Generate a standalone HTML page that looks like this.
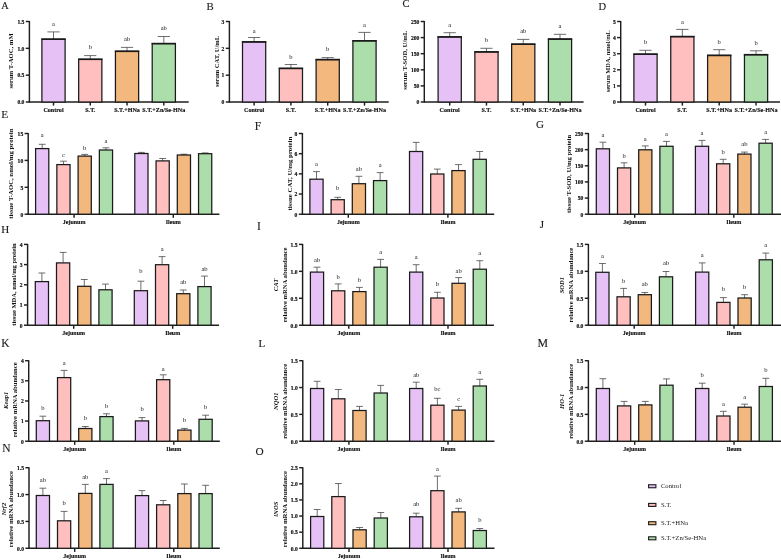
<!DOCTYPE html>
<html><head><meta charset="utf-8"><title>Figure</title>
<style>
html,body{margin:0;padding:0;background:#fff;}
body{width:781px;height:560px;overflow:hidden;}
svg{display:block;font-family:"Liberation Serif", serif;will-change:transform;}
</style></head>
<body>
<svg width="781" height="560" viewBox="0 0 781 560">
<rect width="781" height="560" fill="#fff"/>
<text x="1.3" y="8.8" font-size="10.3" font-weight="normal" font-style="normal" text-anchor="start" fill="#1a1a1a" stroke="#1a1a1a" stroke-width="0.12">A</text>
<text x="206.5" y="9.6" font-size="10.8" font-weight="normal" font-style="normal" text-anchor="start" fill="#1a1a1a" stroke="#1a1a1a" stroke-width="0.12">B</text>
<text x="402.4" y="7.4" font-size="10.5" font-weight="normal" font-style="normal" text-anchor="start" fill="#1a1a1a" stroke="#1a1a1a" stroke-width="0.12">C</text>
<text x="598.5" y="9.6" font-size="10.5" font-weight="normal" font-style="normal" text-anchor="start" fill="#1a1a1a" stroke="#1a1a1a" stroke-width="0.12">D</text>
<text x="1.3" y="117.9" font-size="11.3" font-weight="normal" font-style="normal" text-anchor="start" fill="#1a1a1a" stroke="#1a1a1a" stroke-width="0.12">E</text>
<text x="254.8" y="129.6" font-size="11.5" font-weight="normal" font-style="normal" text-anchor="start" fill="#1a1a1a" stroke="#1a1a1a" stroke-width="0.12">F</text>
<text x="535.9" y="128.2" font-size="11.0" font-weight="normal" font-style="normal" text-anchor="start" fill="#1a1a1a" stroke="#1a1a1a" stroke-width="0.12">G</text>
<text x="1.2" y="233.3" font-size="11.0" font-weight="normal" font-style="normal" text-anchor="start" fill="#1a1a1a" stroke="#1a1a1a" stroke-width="0.12">H</text>
<text x="257.1" y="229.8" font-size="11.5" font-weight="normal" font-style="normal" text-anchor="start" fill="#1a1a1a" stroke="#1a1a1a" stroke-width="0.12">I</text>
<text x="539.7" y="228.2" font-size="11.0" font-weight="normal" font-style="normal" text-anchor="start" fill="#1a1a1a" stroke="#1a1a1a" stroke-width="0.12">J</text>
<text x="1.2" y="346.7" font-size="11.5" font-weight="normal" font-style="normal" text-anchor="start" fill="#1a1a1a" stroke="#1a1a1a" stroke-width="0.12">K</text>
<text x="258.4" y="346.8" font-size="11.0" font-weight="normal" font-style="normal" text-anchor="start" fill="#1a1a1a" stroke="#1a1a1a" stroke-width="0.12">L</text>
<text x="537.5" y="346.9" font-size="11.9" font-weight="normal" font-style="normal" text-anchor="start" fill="#1a1a1a" stroke="#1a1a1a" stroke-width="0.12">M</text>
<text x="2.3" y="452.4" font-size="11.5" font-weight="normal" font-style="normal" text-anchor="start" fill="#1a1a1a" stroke="#1a1a1a" stroke-width="0.12">N</text>
<text x="255.6" y="454.7" font-size="11.3" font-weight="normal" font-style="normal" text-anchor="start" fill="#1a1a1a" stroke="#1a1a1a" stroke-width="0.12">O</text>
<line x1="29.4" y1="21" x2="29.4" y2="102.5" stroke="#1e1e1e" stroke-width="1.45"/>
<line x1="28.9" y1="102" x2="188.7" y2="102" stroke="#1e1e1e" stroke-width="1.45"/>
<line x1="25.8" y1="102" x2="29.4" y2="102" stroke="#1e1e1e" stroke-width="1.45"/>
<text x="24.4" y="104.3" font-size="5.6" font-weight="bold" font-style="normal" text-anchor="end" fill="#111" stroke="#111" stroke-width="0.18">0.0</text>
<line x1="25.8" y1="75.17" x2="29.4" y2="75.17" stroke="#1e1e1e" stroke-width="1.45"/>
<text x="24.4" y="77.47" font-size="5.6" font-weight="bold" font-style="normal" text-anchor="end" fill="#111" stroke="#111" stroke-width="0.18">0.5</text>
<line x1="25.8" y1="48.33" x2="29.4" y2="48.33" stroke="#1e1e1e" stroke-width="1.45"/>
<text x="24.4" y="50.63" font-size="5.6" font-weight="bold" font-style="normal" text-anchor="end" fill="#111" stroke="#111" stroke-width="0.18">1.0</text>
<line x1="25.8" y1="21.5" x2="29.4" y2="21.5" stroke="#1e1e1e" stroke-width="1.45"/>
<text x="24.4" y="23.8" font-size="5.6" font-weight="bold" font-style="normal" text-anchor="end" fill="#111" stroke="#111" stroke-width="0.18">1.5</text>
<line x1="53.5" y1="102" x2="53.5" y2="105.6" stroke="#1e1e1e" stroke-width="1.45"/>
<line x1="90.27" y1="102" x2="90.27" y2="105.6" stroke="#1e1e1e" stroke-width="1.45"/>
<line x1="127.04" y1="102" x2="127.04" y2="105.6" stroke="#1e1e1e" stroke-width="1.45"/>
<line x1="163.81" y1="102" x2="163.81" y2="105.6" stroke="#1e1e1e" stroke-width="1.45"/>
<line x1="53.5" y1="31.9" x2="53.5" y2="39.2" stroke="#4a4a4a" stroke-width="0.8"/>
<line x1="47.4" y1="31.9" x2="59.6" y2="31.9" stroke="#4a4a4a" stroke-width="0.8"/>
<rect x="41.9" y="39.2" width="23.2" height="62.8" fill="#e6c1f5" stroke="#1a1a1a" stroke-width="1.25"/>
<line x1="41.3" y1="39.2" x2="65.7" y2="39.2" stroke="#1a1a1a" stroke-width="1.6"/>
<text x="53.5" y="25.9" font-size="6.5" font-weight="normal" font-style="normal" text-anchor="middle" fill="#1a1a1a" >a</text>
<line x1="90.27" y1="55.6" x2="90.27" y2="59.3" stroke="#4a4a4a" stroke-width="0.8"/>
<line x1="84.17" y1="55.6" x2="96.37" y2="55.6" stroke="#4a4a4a" stroke-width="0.8"/>
<rect x="78.67" y="59.3" width="23.2" height="42.7" fill="#ffbfbf" stroke="#1a1a1a" stroke-width="1.25"/>
<line x1="78.07" y1="59.3" x2="102.47" y2="59.3" stroke="#1a1a1a" stroke-width="1.6"/>
<text x="90.27" y="49" font-size="6.5" font-weight="normal" font-style="normal" text-anchor="middle" fill="#1a1a1a" >b</text>
<line x1="127.04" y1="47.4" x2="127.04" y2="51.3" stroke="#4a4a4a" stroke-width="0.8"/>
<line x1="120.94" y1="47.4" x2="133.14" y2="47.4" stroke="#4a4a4a" stroke-width="0.8"/>
<rect x="115.44" y="51.3" width="23.2" height="50.7" fill="#f2b87d" stroke="#1a1a1a" stroke-width="1.25"/>
<line x1="114.84" y1="51.3" x2="139.24" y2="51.3" stroke="#1a1a1a" stroke-width="1.6"/>
<text x="127.04" y="40.6" font-size="6.5" font-weight="normal" font-style="normal" text-anchor="middle" fill="#1a1a1a" >ab</text>
<line x1="163.81" y1="36.5" x2="163.81" y2="43.6" stroke="#4a4a4a" stroke-width="0.8"/>
<line x1="157.71" y1="36.5" x2="169.91" y2="36.5" stroke="#4a4a4a" stroke-width="0.8"/>
<rect x="152.21" y="43.6" width="23.2" height="58.4" fill="#acdeac" stroke="#1a1a1a" stroke-width="1.25"/>
<line x1="151.61" y1="43.6" x2="176.01" y2="43.6" stroke="#1a1a1a" stroke-width="1.6"/>
<text x="163.81" y="29.8" font-size="6.5" font-weight="normal" font-style="normal" text-anchor="middle" fill="#1a1a1a" >ab</text>
<text x="53.5" y="112" font-size="6.1" font-weight="bold" font-style="normal" text-anchor="middle" fill="#111" stroke="#111" stroke-width="0.15">Control</text>
<text x="90.27" y="112" font-size="6.1" font-weight="bold" font-style="normal" text-anchor="middle" fill="#111" stroke="#111" stroke-width="0.15">S.T.</text>
<text x="127.04" y="112" font-size="6.1" font-weight="bold" font-style="normal" text-anchor="middle" fill="#111" stroke="#111" stroke-width="0.15">S.T.+HNa</text>
<text x="163.81" y="112" font-size="6.1" font-weight="bold" font-style="normal" text-anchor="middle" fill="#111" stroke="#111" stroke-width="0.15">S.T.+Zn/Se-HNa</text>
<text class="yl" transform="translate(11,60.95) rotate(-90)" x="0" y="0" dy="0.35em" font-size="6.6" font-weight="bold" font-style="normal" text-anchor="middle" textLength="55.3" lengthAdjust="spacingAndGlyphs" fill="#111">serum T-AOC, mM</text>
<line x1="229.4" y1="21" x2="229.4" y2="102.5" stroke="#1e1e1e" stroke-width="1.45"/>
<line x1="228.9" y1="102" x2="388.7" y2="102" stroke="#1e1e1e" stroke-width="1.45"/>
<line x1="225.8" y1="102" x2="229.4" y2="102" stroke="#1e1e1e" stroke-width="1.45"/>
<text x="224.4" y="104.3" font-size="5.6" font-weight="bold" font-style="normal" text-anchor="end" fill="#111" stroke="#111" stroke-width="0.18">0</text>
<line x1="225.8" y1="75.17" x2="229.4" y2="75.17" stroke="#1e1e1e" stroke-width="1.45"/>
<text x="224.4" y="77.47" font-size="5.6" font-weight="bold" font-style="normal" text-anchor="end" fill="#111" stroke="#111" stroke-width="0.18">1</text>
<line x1="225.8" y1="48.33" x2="229.4" y2="48.33" stroke="#1e1e1e" stroke-width="1.45"/>
<text x="224.4" y="50.63" font-size="5.6" font-weight="bold" font-style="normal" text-anchor="end" fill="#111" stroke="#111" stroke-width="0.18">2</text>
<line x1="225.8" y1="21.5" x2="229.4" y2="21.5" stroke="#1e1e1e" stroke-width="1.45"/>
<text x="224.4" y="23.8" font-size="5.6" font-weight="bold" font-style="normal" text-anchor="end" fill="#111" stroke="#111" stroke-width="0.18">3</text>
<line x1="254.1" y1="102" x2="254.1" y2="105.6" stroke="#1e1e1e" stroke-width="1.45"/>
<line x1="290.9" y1="102" x2="290.9" y2="105.6" stroke="#1e1e1e" stroke-width="1.45"/>
<line x1="327.7" y1="102" x2="327.7" y2="105.6" stroke="#1e1e1e" stroke-width="1.45"/>
<line x1="364.5" y1="102" x2="364.5" y2="105.6" stroke="#1e1e1e" stroke-width="1.45"/>
<line x1="254.1" y1="37.5" x2="254.1" y2="41.9" stroke="#4a4a4a" stroke-width="0.8"/>
<line x1="248" y1="37.5" x2="260.2" y2="37.5" stroke="#4a4a4a" stroke-width="0.8"/>
<rect x="242.5" y="41.9" width="23.2" height="60.1" fill="#e6c1f5" stroke="#1a1a1a" stroke-width="1.25"/>
<line x1="241.9" y1="41.9" x2="266.3" y2="41.9" stroke="#1a1a1a" stroke-width="1.6"/>
<text x="254.1" y="32.7" font-size="6.5" font-weight="normal" font-style="normal" text-anchor="middle" fill="#1a1a1a" >a</text>
<line x1="290.9" y1="64.5" x2="290.9" y2="68.4" stroke="#4a4a4a" stroke-width="0.8"/>
<line x1="284.8" y1="64.5" x2="297" y2="64.5" stroke="#4a4a4a" stroke-width="0.8"/>
<rect x="279.3" y="68.4" width="23.2" height="33.6" fill="#ffbfbf" stroke="#1a1a1a" stroke-width="1.25"/>
<line x1="278.7" y1="68.4" x2="303.1" y2="68.4" stroke="#1a1a1a" stroke-width="1.6"/>
<text x="290.9" y="58.9" font-size="6.5" font-weight="normal" font-style="normal" text-anchor="middle" fill="#1a1a1a" >b</text>
<line x1="327.7" y1="57.6" x2="327.7" y2="59.6" stroke="#4a4a4a" stroke-width="0.8"/>
<line x1="321.6" y1="57.6" x2="333.8" y2="57.6" stroke="#4a4a4a" stroke-width="0.8"/>
<rect x="316.1" y="59.6" width="23.2" height="42.4" fill="#f2b87d" stroke="#1a1a1a" stroke-width="1.25"/>
<line x1="315.5" y1="59.6" x2="339.9" y2="59.6" stroke="#1a1a1a" stroke-width="1.6"/>
<text x="327.7" y="51.3" font-size="6.5" font-weight="normal" font-style="normal" text-anchor="middle" fill="#1a1a1a" >b</text>
<line x1="364.5" y1="32.4" x2="364.5" y2="40.8" stroke="#4a4a4a" stroke-width="0.8"/>
<line x1="358.4" y1="32.4" x2="370.6" y2="32.4" stroke="#4a4a4a" stroke-width="0.8"/>
<rect x="352.9" y="40.8" width="23.2" height="61.2" fill="#acdeac" stroke="#1a1a1a" stroke-width="1.25"/>
<line x1="352.3" y1="40.8" x2="376.7" y2="40.8" stroke="#1a1a1a" stroke-width="1.6"/>
<text x="364.5" y="27.2" font-size="6.5" font-weight="normal" font-style="normal" text-anchor="middle" fill="#1a1a1a" >a</text>
<text x="254.1" y="112" font-size="6.1" font-weight="bold" font-style="normal" text-anchor="middle" fill="#111" stroke="#111" stroke-width="0.15">Control</text>
<text x="290.9" y="112" font-size="6.1" font-weight="bold" font-style="normal" text-anchor="middle" fill="#111" stroke="#111" stroke-width="0.15">S.T.</text>
<text x="327.7" y="112" font-size="6.1" font-weight="bold" font-style="normal" text-anchor="middle" fill="#111" stroke="#111" stroke-width="0.15">S.T.+HNa</text>
<text x="364.5" y="112" font-size="6.1" font-weight="bold" font-style="normal" text-anchor="middle" fill="#111" stroke="#111" stroke-width="0.15">S.T.+Zn/Se-HNa</text>
<text class="yl" transform="translate(217,61.5) rotate(-90)" x="0" y="0" dy="0.35em" font-size="6.6" font-weight="bold" font-style="normal" text-anchor="middle" textLength="51.2" lengthAdjust="spacingAndGlyphs" fill="#111">serum CAT, U/mL</text>
<line x1="424.3" y1="21" x2="424.3" y2="102.5" stroke="#1e1e1e" stroke-width="1.45"/>
<line x1="423.8" y1="102" x2="583.6" y2="102" stroke="#1e1e1e" stroke-width="1.45"/>
<line x1="420.7" y1="102" x2="424.3" y2="102" stroke="#1e1e1e" stroke-width="1.45"/>
<text x="419.3" y="104.3" font-size="5.6" font-weight="bold" font-style="normal" text-anchor="end" fill="#111" stroke="#111" stroke-width="0.18">0</text>
<line x1="420.7" y1="85.9" x2="424.3" y2="85.9" stroke="#1e1e1e" stroke-width="1.45"/>
<text x="419.3" y="88.2" font-size="5.6" font-weight="bold" font-style="normal" text-anchor="end" fill="#111" stroke="#111" stroke-width="0.18">50</text>
<line x1="420.7" y1="69.8" x2="424.3" y2="69.8" stroke="#1e1e1e" stroke-width="1.45"/>
<text x="419.3" y="72.1" font-size="5.6" font-weight="bold" font-style="normal" text-anchor="end" fill="#111" stroke="#111" stroke-width="0.18">100</text>
<line x1="420.7" y1="53.7" x2="424.3" y2="53.7" stroke="#1e1e1e" stroke-width="1.45"/>
<text x="419.3" y="56" font-size="5.6" font-weight="bold" font-style="normal" text-anchor="end" fill="#111" stroke="#111" stroke-width="0.18">150</text>
<line x1="420.7" y1="37.6" x2="424.3" y2="37.6" stroke="#1e1e1e" stroke-width="1.45"/>
<text x="419.3" y="39.9" font-size="5.6" font-weight="bold" font-style="normal" text-anchor="end" fill="#111" stroke="#111" stroke-width="0.18">200</text>
<line x1="420.7" y1="21.5" x2="424.3" y2="21.5" stroke="#1e1e1e" stroke-width="1.45"/>
<text x="419.3" y="23.8" font-size="5.6" font-weight="bold" font-style="normal" text-anchor="end" fill="#111" stroke="#111" stroke-width="0.18">250</text>
<line x1="449.7" y1="102" x2="449.7" y2="105.6" stroke="#1e1e1e" stroke-width="1.45"/>
<line x1="486.47" y1="102" x2="486.47" y2="105.6" stroke="#1e1e1e" stroke-width="1.45"/>
<line x1="523.24" y1="102" x2="523.24" y2="105.6" stroke="#1e1e1e" stroke-width="1.45"/>
<line x1="560.01" y1="102" x2="560.01" y2="105.6" stroke="#1e1e1e" stroke-width="1.45"/>
<line x1="449.7" y1="32.7" x2="449.7" y2="36.9" stroke="#4a4a4a" stroke-width="0.8"/>
<line x1="443.6" y1="32.7" x2="455.8" y2="32.7" stroke="#4a4a4a" stroke-width="0.8"/>
<rect x="438.1" y="36.9" width="23.2" height="65.1" fill="#e6c1f5" stroke="#1a1a1a" stroke-width="1.25"/>
<line x1="437.5" y1="36.9" x2="461.9" y2="36.9" stroke="#1a1a1a" stroke-width="1.6"/>
<text x="449.7" y="26.8" font-size="6.5" font-weight="normal" font-style="normal" text-anchor="middle" fill="#1a1a1a" >a</text>
<line x1="486.47" y1="48.3" x2="486.47" y2="51.9" stroke="#4a4a4a" stroke-width="0.8"/>
<line x1="480.37" y1="48.3" x2="492.57" y2="48.3" stroke="#4a4a4a" stroke-width="0.8"/>
<rect x="474.87" y="51.9" width="23.2" height="50.1" fill="#ffbfbf" stroke="#1a1a1a" stroke-width="1.25"/>
<line x1="474.27" y1="51.9" x2="498.67" y2="51.9" stroke="#1a1a1a" stroke-width="1.6"/>
<text x="486.47" y="42.3" font-size="6.5" font-weight="normal" font-style="normal" text-anchor="middle" fill="#1a1a1a" >b</text>
<line x1="523.24" y1="39.4" x2="523.24" y2="44.2" stroke="#4a4a4a" stroke-width="0.8"/>
<line x1="517.14" y1="39.4" x2="529.34" y2="39.4" stroke="#4a4a4a" stroke-width="0.8"/>
<rect x="511.64" y="44.2" width="23.2" height="57.8" fill="#f2b87d" stroke="#1a1a1a" stroke-width="1.25"/>
<line x1="511.04" y1="44.2" x2="535.44" y2="44.2" stroke="#1a1a1a" stroke-width="1.6"/>
<text x="523.24" y="33.4" font-size="6.5" font-weight="normal" font-style="normal" text-anchor="middle" fill="#1a1a1a" >ab</text>
<line x1="560.01" y1="34.3" x2="560.01" y2="39.1" stroke="#4a4a4a" stroke-width="0.8"/>
<line x1="553.91" y1="34.3" x2="566.11" y2="34.3" stroke="#4a4a4a" stroke-width="0.8"/>
<rect x="548.41" y="39.1" width="23.2" height="62.9" fill="#acdeac" stroke="#1a1a1a" stroke-width="1.25"/>
<line x1="547.81" y1="39.1" x2="572.21" y2="39.1" stroke="#1a1a1a" stroke-width="1.6"/>
<text x="560.01" y="28.1" font-size="6.5" font-weight="normal" font-style="normal" text-anchor="middle" fill="#1a1a1a" >a</text>
<text x="449.7" y="112" font-size="6.1" font-weight="bold" font-style="normal" text-anchor="middle" fill="#111" stroke="#111" stroke-width="0.15">Control</text>
<text x="486.47" y="112" font-size="6.1" font-weight="bold" font-style="normal" text-anchor="middle" fill="#111" stroke="#111" stroke-width="0.15">S.T.</text>
<text x="523.24" y="112" font-size="6.1" font-weight="bold" font-style="normal" text-anchor="middle" fill="#111" stroke="#111" stroke-width="0.15">S.T.+HNa</text>
<text x="560.01" y="112" font-size="6.1" font-weight="bold" font-style="normal" text-anchor="middle" fill="#111" stroke="#111" stroke-width="0.15">S.T.+Zn/Se-HNa</text>
<text class="yl" transform="translate(404.9,60.25) rotate(-90)" x="0" y="0" dy="0.35em" font-size="6.6" font-weight="bold" font-style="normal" text-anchor="middle" textLength="58.9" lengthAdjust="spacingAndGlyphs" fill="#111">serum T-SOD, U/mL</text>
<line x1="620.7" y1="21" x2="620.7" y2="102.5" stroke="#1e1e1e" stroke-width="1.45"/>
<line x1="620.2" y1="102" x2="780" y2="102" stroke="#1e1e1e" stroke-width="1.45"/>
<line x1="617.1" y1="102" x2="620.7" y2="102" stroke="#1e1e1e" stroke-width="1.45"/>
<text x="615.7" y="104.3" font-size="5.6" font-weight="bold" font-style="normal" text-anchor="end" fill="#111" stroke="#111" stroke-width="0.18">0</text>
<line x1="617.1" y1="85.9" x2="620.7" y2="85.9" stroke="#1e1e1e" stroke-width="1.45"/>
<text x="615.7" y="88.2" font-size="5.6" font-weight="bold" font-style="normal" text-anchor="end" fill="#111" stroke="#111" stroke-width="0.18">1</text>
<line x1="617.1" y1="69.8" x2="620.7" y2="69.8" stroke="#1e1e1e" stroke-width="1.45"/>
<text x="615.7" y="72.1" font-size="5.6" font-weight="bold" font-style="normal" text-anchor="end" fill="#111" stroke="#111" stroke-width="0.18">2</text>
<line x1="617.1" y1="53.7" x2="620.7" y2="53.7" stroke="#1e1e1e" stroke-width="1.45"/>
<text x="615.7" y="56" font-size="5.6" font-weight="bold" font-style="normal" text-anchor="end" fill="#111" stroke="#111" stroke-width="0.18">3</text>
<line x1="617.1" y1="37.6" x2="620.7" y2="37.6" stroke="#1e1e1e" stroke-width="1.45"/>
<text x="615.7" y="39.9" font-size="5.6" font-weight="bold" font-style="normal" text-anchor="end" fill="#111" stroke="#111" stroke-width="0.18">4</text>
<line x1="617.1" y1="21.5" x2="620.7" y2="21.5" stroke="#1e1e1e" stroke-width="1.45"/>
<text x="615.7" y="23.8" font-size="5.6" font-weight="bold" font-style="normal" text-anchor="end" fill="#111" stroke="#111" stroke-width="0.18">5</text>
<line x1="645.5" y1="102" x2="645.5" y2="105.6" stroke="#1e1e1e" stroke-width="1.45"/>
<line x1="682.35" y1="102" x2="682.35" y2="105.6" stroke="#1e1e1e" stroke-width="1.45"/>
<line x1="719.2" y1="102" x2="719.2" y2="105.6" stroke="#1e1e1e" stroke-width="1.45"/>
<line x1="756.05" y1="102" x2="756.05" y2="105.6" stroke="#1e1e1e" stroke-width="1.45"/>
<line x1="645.5" y1="50.3" x2="645.5" y2="54.2" stroke="#4a4a4a" stroke-width="0.8"/>
<line x1="639.4" y1="50.3" x2="651.6" y2="50.3" stroke="#4a4a4a" stroke-width="0.8"/>
<rect x="633.9" y="54.2" width="23.2" height="47.8" fill="#e6c1f5" stroke="#1a1a1a" stroke-width="1.25"/>
<line x1="633.3" y1="54.2" x2="657.7" y2="54.2" stroke="#1a1a1a" stroke-width="1.6"/>
<text x="645.5" y="43.6" font-size="6.5" font-weight="normal" font-style="normal" text-anchor="middle" fill="#1a1a1a" >b</text>
<line x1="682.35" y1="29.4" x2="682.35" y2="36.6" stroke="#4a4a4a" stroke-width="0.8"/>
<line x1="676.25" y1="29.4" x2="688.45" y2="29.4" stroke="#4a4a4a" stroke-width="0.8"/>
<rect x="670.75" y="36.6" width="23.2" height="65.4" fill="#ffbfbf" stroke="#1a1a1a" stroke-width="1.25"/>
<line x1="670.15" y1="36.6" x2="694.55" y2="36.6" stroke="#1a1a1a" stroke-width="1.6"/>
<text x="682.35" y="23.8" font-size="6.5" font-weight="normal" font-style="normal" text-anchor="middle" fill="#1a1a1a" >a</text>
<line x1="719.2" y1="49.7" x2="719.2" y2="55.4" stroke="#4a4a4a" stroke-width="0.8"/>
<line x1="713.1" y1="49.7" x2="725.3" y2="49.7" stroke="#4a4a4a" stroke-width="0.8"/>
<rect x="707.6" y="55.4" width="23.2" height="46.6" fill="#f2b87d" stroke="#1a1a1a" stroke-width="1.25"/>
<line x1="707" y1="55.4" x2="731.4" y2="55.4" stroke="#1a1a1a" stroke-width="1.6"/>
<text x="719.2" y="43.6" font-size="6.5" font-weight="normal" font-style="normal" text-anchor="middle" fill="#1a1a1a" >b</text>
<line x1="756.05" y1="50.8" x2="756.05" y2="54.7" stroke="#4a4a4a" stroke-width="0.8"/>
<line x1="749.95" y1="50.8" x2="762.15" y2="50.8" stroke="#4a4a4a" stroke-width="0.8"/>
<rect x="744.45" y="54.7" width="23.2" height="47.3" fill="#acdeac" stroke="#1a1a1a" stroke-width="1.25"/>
<line x1="743.85" y1="54.7" x2="768.25" y2="54.7" stroke="#1a1a1a" stroke-width="1.6"/>
<text x="756.05" y="45.1" font-size="6.5" font-weight="normal" font-style="normal" text-anchor="middle" fill="#1a1a1a" >b</text>
<text x="645.5" y="112" font-size="6.1" font-weight="bold" font-style="normal" text-anchor="middle" fill="#111" stroke="#111" stroke-width="0.15">Control</text>
<text x="682.35" y="112" font-size="6.1" font-weight="bold" font-style="normal" text-anchor="middle" fill="#111" stroke="#111" stroke-width="0.15">S.T.</text>
<text x="719.2" y="112" font-size="6.1" font-weight="bold" font-style="normal" text-anchor="middle" fill="#111" stroke="#111" stroke-width="0.15">S.T.+HNa</text>
<text x="756.05" y="112" font-size="6.1" font-weight="bold" font-style="normal" text-anchor="middle" fill="#111" stroke="#111" stroke-width="0.15">S.T.+Zn/Se-HNa</text>
<text class="yl" transform="translate(607.3,61.25) rotate(-90)" x="0" y="0" dy="0.35em" font-size="6.6" font-weight="bold" font-style="normal" text-anchor="middle" textLength="61.9" lengthAdjust="spacingAndGlyphs" fill="#111">serum MDA, nmol/mL</text>
<line x1="28.2" y1="133" x2="28.2" y2="214.7" stroke="#1e1e1e" stroke-width="1.45"/>
<line x1="27.7" y1="214.2" x2="219.4" y2="214.2" stroke="#1e1e1e" stroke-width="1.45"/>
<line x1="24.6" y1="214.2" x2="28.2" y2="214.2" stroke="#1e1e1e" stroke-width="1.45"/>
<text x="23.2" y="216.5" font-size="5.6" font-weight="bold" font-style="normal" text-anchor="end" fill="#111" stroke="#111" stroke-width="0.18">0</text>
<line x1="24.6" y1="187.3" x2="28.2" y2="187.3" stroke="#1e1e1e" stroke-width="1.45"/>
<text x="23.2" y="189.6" font-size="5.6" font-weight="bold" font-style="normal" text-anchor="end" fill="#111" stroke="#111" stroke-width="0.18">5</text>
<line x1="24.6" y1="160.4" x2="28.2" y2="160.4" stroke="#1e1e1e" stroke-width="1.45"/>
<text x="23.2" y="162.7" font-size="5.6" font-weight="bold" font-style="normal" text-anchor="end" fill="#111" stroke="#111" stroke-width="0.18">10</text>
<line x1="24.6" y1="133.5" x2="28.2" y2="133.5" stroke="#1e1e1e" stroke-width="1.45"/>
<text x="23.2" y="135.8" font-size="5.6" font-weight="bold" font-style="normal" text-anchor="end" fill="#111" stroke="#111" stroke-width="0.18">15</text>
<line x1="74.08" y1="214.2" x2="74.08" y2="217.8" stroke="#1e1e1e" stroke-width="1.45"/>
<line x1="173.28" y1="214.2" x2="173.28" y2="217.8" stroke="#1e1e1e" stroke-width="1.45"/>
<line x1="42.2" y1="144.3" x2="42.2" y2="148.6" stroke="#4a4a4a" stroke-width="0.8"/>
<line x1="38.8" y1="144.3" x2="45.6" y2="144.3" stroke="#4a4a4a" stroke-width="0.8"/>
<rect x="35.6" y="148.6" width="13.2" height="65.6" fill="#e6c1f5" stroke="#1a1a1a" stroke-width="1.25"/>
<text x="42.2" y="136.8" font-size="6.5" font-weight="normal" font-style="normal" text-anchor="middle" fill="#1a1a1a" >a</text>
<line x1="63.45" y1="161.2" x2="63.45" y2="164.6" stroke="#4a4a4a" stroke-width="0.8"/>
<line x1="60.05" y1="161.2" x2="66.85" y2="161.2" stroke="#4a4a4a" stroke-width="0.8"/>
<rect x="56.85" y="164.6" width="13.2" height="49.6" fill="#ffbfbf" stroke="#1a1a1a" stroke-width="1.25"/>
<text x="63.45" y="156.6" font-size="6.5" font-weight="normal" font-style="normal" text-anchor="middle" fill="#1a1a1a" >c</text>
<line x1="84.7" y1="154.4" x2="84.7" y2="156.1" stroke="#4a4a4a" stroke-width="0.8"/>
<line x1="81.3" y1="154.4" x2="88.1" y2="154.4" stroke="#4a4a4a" stroke-width="0.8"/>
<rect x="78.1" y="156.1" width="13.2" height="58.1" fill="#f2b87d" stroke="#1a1a1a" stroke-width="1.25"/>
<text x="84.7" y="149.6" font-size="6.5" font-weight="normal" font-style="normal" text-anchor="middle" fill="#1a1a1a" >b</text>
<line x1="105.95" y1="147.8" x2="105.95" y2="150" stroke="#4a4a4a" stroke-width="0.8"/>
<line x1="102.55" y1="147.8" x2="109.35" y2="147.8" stroke="#4a4a4a" stroke-width="0.8"/>
<rect x="99.35" y="150" width="13.2" height="64.2" fill="#acdeac" stroke="#1a1a1a" stroke-width="1.25"/>
<text x="105.95" y="142.7" font-size="6.5" font-weight="normal" font-style="normal" text-anchor="middle" fill="#1a1a1a" >a</text>
<line x1="141.4" y1="152.4" x2="141.4" y2="153.5" stroke="#4a4a4a" stroke-width="0.8"/>
<line x1="138" y1="152.4" x2="144.8" y2="152.4" stroke="#4a4a4a" stroke-width="0.8"/>
<rect x="134.8" y="153.5" width="13.2" height="60.7" fill="#e6c1f5" stroke="#1a1a1a" stroke-width="1.25"/>
<line x1="162.65" y1="158.5" x2="162.65" y2="160.9" stroke="#4a4a4a" stroke-width="0.8"/>
<line x1="159.25" y1="158.5" x2="166.05" y2="158.5" stroke="#4a4a4a" stroke-width="0.8"/>
<rect x="156.05" y="160.9" width="13.2" height="53.3" fill="#ffbfbf" stroke="#1a1a1a" stroke-width="1.25"/>
<line x1="183.9" y1="154.2" x2="183.9" y2="155" stroke="#4a4a4a" stroke-width="0.8"/>
<line x1="180.5" y1="154.2" x2="187.3" y2="154.2" stroke="#4a4a4a" stroke-width="0.8"/>
<rect x="177.3" y="155" width="13.2" height="59.2" fill="#f2b87d" stroke="#1a1a1a" stroke-width="1.25"/>
<line x1="205.15" y1="152.9" x2="205.15" y2="153.7" stroke="#4a4a4a" stroke-width="0.8"/>
<line x1="201.75" y1="152.9" x2="208.55" y2="152.9" stroke="#4a4a4a" stroke-width="0.8"/>
<rect x="198.55" y="153.7" width="13.2" height="60.5" fill="#acdeac" stroke="#1a1a1a" stroke-width="1.25"/>
<text x="74.08" y="224.2" font-size="6.0" font-weight="bold" font-style="normal" text-anchor="middle" fill="#111" stroke="#111" stroke-width="0.15">Jejunum</text>
<text x="173.28" y="224.2" font-size="6.0" font-weight="bold" font-style="normal" text-anchor="middle" fill="#111" stroke="#111" stroke-width="0.15">Ileum</text>
<text class="yl" transform="translate(10.6,173.7) rotate(-90)" x="0" y="0" dy="0.35em" font-size="6.6" font-weight="bold" font-style="normal" text-anchor="middle" textLength="90.2" lengthAdjust="spacingAndGlyphs" fill="#111">tissue T-AOC, nmol/mg protein</text>
<line x1="302.4" y1="133" x2="302.4" y2="214.7" stroke="#1e1e1e" stroke-width="1.45"/>
<line x1="301.9" y1="214.2" x2="494.2" y2="214.2" stroke="#1e1e1e" stroke-width="1.45"/>
<line x1="298.8" y1="214.2" x2="302.4" y2="214.2" stroke="#1e1e1e" stroke-width="1.45"/>
<text x="297.4" y="216.5" font-size="5.6" font-weight="bold" font-style="normal" text-anchor="end" fill="#111" stroke="#111" stroke-width="0.18">0</text>
<line x1="298.8" y1="194.02" x2="302.4" y2="194.02" stroke="#1e1e1e" stroke-width="1.45"/>
<text x="297.4" y="196.32" font-size="5.6" font-weight="bold" font-style="normal" text-anchor="end" fill="#111" stroke="#111" stroke-width="0.18">2</text>
<line x1="298.8" y1="173.85" x2="302.4" y2="173.85" stroke="#1e1e1e" stroke-width="1.45"/>
<text x="297.4" y="176.15" font-size="5.6" font-weight="bold" font-style="normal" text-anchor="end" fill="#111" stroke="#111" stroke-width="0.18">4</text>
<line x1="298.8" y1="153.68" x2="302.4" y2="153.68" stroke="#1e1e1e" stroke-width="1.45"/>
<text x="297.4" y="155.98" font-size="5.6" font-weight="bold" font-style="normal" text-anchor="end" fill="#111" stroke="#111" stroke-width="0.18">6</text>
<line x1="298.8" y1="133.5" x2="302.4" y2="133.5" stroke="#1e1e1e" stroke-width="1.45"/>
<text x="297.4" y="135.8" font-size="5.6" font-weight="bold" font-style="normal" text-anchor="end" fill="#111" stroke="#111" stroke-width="0.18">8</text>
<line x1="348.3" y1="214.2" x2="348.3" y2="217.8" stroke="#1e1e1e" stroke-width="1.45"/>
<line x1="447.9" y1="214.2" x2="447.9" y2="217.8" stroke="#1e1e1e" stroke-width="1.45"/>
<line x1="316.5" y1="171.6" x2="316.5" y2="179.2" stroke="#4a4a4a" stroke-width="0.8"/>
<line x1="313.1" y1="171.6" x2="319.9" y2="171.6" stroke="#4a4a4a" stroke-width="0.8"/>
<rect x="309.9" y="179.2" width="13.2" height="35" fill="#e6c1f5" stroke="#1a1a1a" stroke-width="1.25"/>
<text x="316.5" y="166" font-size="6.5" font-weight="normal" font-style="normal" text-anchor="middle" fill="#1a1a1a" >a</text>
<line x1="337.7" y1="197.3" x2="337.7" y2="199.7" stroke="#4a4a4a" stroke-width="0.8"/>
<line x1="334.3" y1="197.3" x2="341.1" y2="197.3" stroke="#4a4a4a" stroke-width="0.8"/>
<rect x="331.1" y="199.7" width="13.2" height="14.5" fill="#ffbfbf" stroke="#1a1a1a" stroke-width="1.25"/>
<text x="337.7" y="190.2" font-size="6.5" font-weight="normal" font-style="normal" text-anchor="middle" fill="#1a1a1a" >b</text>
<line x1="358.9" y1="176.3" x2="358.9" y2="183.7" stroke="#4a4a4a" stroke-width="0.8"/>
<line x1="355.5" y1="176.3" x2="362.3" y2="176.3" stroke="#4a4a4a" stroke-width="0.8"/>
<rect x="352.3" y="183.7" width="13.2" height="30.5" fill="#f2b87d" stroke="#1a1a1a" stroke-width="1.25"/>
<text x="358.9" y="170.7" font-size="6.5" font-weight="normal" font-style="normal" text-anchor="middle" fill="#1a1a1a" >ab</text>
<line x1="380.1" y1="172.6" x2="380.1" y2="180.6" stroke="#4a4a4a" stroke-width="0.8"/>
<line x1="376.7" y1="172.6" x2="383.5" y2="172.6" stroke="#4a4a4a" stroke-width="0.8"/>
<rect x="373.5" y="180.6" width="13.2" height="33.6" fill="#acdeac" stroke="#1a1a1a" stroke-width="1.25"/>
<text x="380.1" y="167" font-size="6.5" font-weight="normal" font-style="normal" text-anchor="middle" fill="#1a1a1a" >a</text>
<line x1="416.1" y1="142.4" x2="416.1" y2="151.5" stroke="#4a4a4a" stroke-width="0.8"/>
<line x1="412.7" y1="142.4" x2="419.5" y2="142.4" stroke="#4a4a4a" stroke-width="0.8"/>
<rect x="409.5" y="151.5" width="13.2" height="62.7" fill="#e6c1f5" stroke="#1a1a1a" stroke-width="1.25"/>
<line x1="437.3" y1="169.1" x2="437.3" y2="174" stroke="#4a4a4a" stroke-width="0.8"/>
<line x1="433.9" y1="169.1" x2="440.7" y2="169.1" stroke="#4a4a4a" stroke-width="0.8"/>
<rect x="430.7" y="174" width="13.2" height="40.2" fill="#ffbfbf" stroke="#1a1a1a" stroke-width="1.25"/>
<line x1="458.5" y1="164.6" x2="458.5" y2="170.6" stroke="#4a4a4a" stroke-width="0.8"/>
<line x1="455.1" y1="164.6" x2="461.9" y2="164.6" stroke="#4a4a4a" stroke-width="0.8"/>
<rect x="451.9" y="170.6" width="13.2" height="43.6" fill="#f2b87d" stroke="#1a1a1a" stroke-width="1.25"/>
<line x1="479.7" y1="151.5" x2="479.7" y2="159.3" stroke="#4a4a4a" stroke-width="0.8"/>
<line x1="476.3" y1="151.5" x2="483.1" y2="151.5" stroke="#4a4a4a" stroke-width="0.8"/>
<rect x="473.1" y="159.3" width="13.2" height="54.9" fill="#acdeac" stroke="#1a1a1a" stroke-width="1.25"/>
<text x="348.3" y="224.2" font-size="6.0" font-weight="bold" font-style="normal" text-anchor="middle" fill="#111" stroke="#111" stroke-width="0.15">Jejunum</text>
<text x="447.9" y="224.2" font-size="6.0" font-weight="bold" font-style="normal" text-anchor="middle" fill="#111" stroke="#111" stroke-width="0.15">Ileum</text>
<text class="yl" transform="translate(289.7,173.65) rotate(-90)" x="0" y="0" dy="0.35em" font-size="6.6" font-weight="bold" font-style="normal" text-anchor="middle" textLength="73.9" lengthAdjust="spacingAndGlyphs" fill="#111">tissue CAT, U/mg protein</text>
<line x1="588.4" y1="133" x2="588.4" y2="214.7" stroke="#1e1e1e" stroke-width="1.45"/>
<line x1="587.9" y1="214.2" x2="781" y2="214.2" stroke="#1e1e1e" stroke-width="1.45"/>
<line x1="584.8" y1="214.2" x2="588.4" y2="214.2" stroke="#1e1e1e" stroke-width="1.45"/>
<text x="583.4" y="216.5" font-size="5.6" font-weight="bold" font-style="normal" text-anchor="end" fill="#111" stroke="#111" stroke-width="0.18">0</text>
<line x1="584.8" y1="198.06" x2="588.4" y2="198.06" stroke="#1e1e1e" stroke-width="1.45"/>
<text x="583.4" y="200.36" font-size="5.6" font-weight="bold" font-style="normal" text-anchor="end" fill="#111" stroke="#111" stroke-width="0.18">50</text>
<line x1="584.8" y1="181.92" x2="588.4" y2="181.92" stroke="#1e1e1e" stroke-width="1.45"/>
<text x="583.4" y="184.22" font-size="5.6" font-weight="bold" font-style="normal" text-anchor="end" fill="#111" stroke="#111" stroke-width="0.18">100</text>
<line x1="584.8" y1="165.78" x2="588.4" y2="165.78" stroke="#1e1e1e" stroke-width="1.45"/>
<text x="583.4" y="168.08" font-size="5.6" font-weight="bold" font-style="normal" text-anchor="end" fill="#111" stroke="#111" stroke-width="0.18">150</text>
<line x1="584.8" y1="149.64" x2="588.4" y2="149.64" stroke="#1e1e1e" stroke-width="1.45"/>
<text x="583.4" y="151.94" font-size="5.6" font-weight="bold" font-style="normal" text-anchor="end" fill="#111" stroke="#111" stroke-width="0.18">200</text>
<line x1="584.8" y1="133.5" x2="588.4" y2="133.5" stroke="#1e1e1e" stroke-width="1.45"/>
<text x="583.4" y="135.8" font-size="5.6" font-weight="bold" font-style="normal" text-anchor="end" fill="#111" stroke="#111" stroke-width="0.18">250</text>
<line x1="634.7" y1="214.2" x2="634.7" y2="217.8" stroke="#1e1e1e" stroke-width="1.45"/>
<line x1="733.8" y1="214.2" x2="733.8" y2="217.8" stroke="#1e1e1e" stroke-width="1.45"/>
<line x1="602.9" y1="142.2" x2="602.9" y2="148.8" stroke="#4a4a4a" stroke-width="0.8"/>
<line x1="599.5" y1="142.2" x2="606.3" y2="142.2" stroke="#4a4a4a" stroke-width="0.8"/>
<rect x="596.3" y="148.8" width="13.2" height="65.4" fill="#e6c1f5" stroke="#1a1a1a" stroke-width="1.25"/>
<text x="602.9" y="137.3" font-size="6.5" font-weight="normal" font-style="normal" text-anchor="middle" fill="#1a1a1a" >a</text>
<line x1="624.1" y1="162.8" x2="624.1" y2="167.9" stroke="#4a4a4a" stroke-width="0.8"/>
<line x1="620.7" y1="162.8" x2="627.5" y2="162.8" stroke="#4a4a4a" stroke-width="0.8"/>
<rect x="617.5" y="167.9" width="13.2" height="46.3" fill="#ffbfbf" stroke="#1a1a1a" stroke-width="1.25"/>
<text x="624.1" y="157.8" font-size="6.5" font-weight="normal" font-style="normal" text-anchor="middle" fill="#1a1a1a" >b</text>
<line x1="645.3" y1="145.9" x2="645.3" y2="149.8" stroke="#4a4a4a" stroke-width="0.8"/>
<line x1="641.9" y1="145.9" x2="648.7" y2="145.9" stroke="#4a4a4a" stroke-width="0.8"/>
<rect x="638.7" y="149.8" width="13.2" height="64.4" fill="#f2b87d" stroke="#1a1a1a" stroke-width="1.25"/>
<text x="645.3" y="141" font-size="6.5" font-weight="normal" font-style="normal" text-anchor="middle" fill="#1a1a1a" >a</text>
<line x1="666.5" y1="141.4" x2="666.5" y2="146.3" stroke="#4a4a4a" stroke-width="0.8"/>
<line x1="663.1" y1="141.4" x2="669.9" y2="141.4" stroke="#4a4a4a" stroke-width="0.8"/>
<rect x="659.9" y="146.3" width="13.2" height="67.9" fill="#acdeac" stroke="#1a1a1a" stroke-width="1.25"/>
<text x="666.5" y="135.8" font-size="6.5" font-weight="normal" font-style="normal" text-anchor="middle" fill="#1a1a1a" >a</text>
<line x1="702" y1="140.4" x2="702" y2="146.3" stroke="#4a4a4a" stroke-width="0.8"/>
<line x1="698.6" y1="140.4" x2="705.4" y2="140.4" stroke="#4a4a4a" stroke-width="0.8"/>
<rect x="695.4" y="146.3" width="13.2" height="67.9" fill="#e6c1f5" stroke="#1a1a1a" stroke-width="1.25"/>
<text x="702" y="134.8" font-size="6.5" font-weight="normal" font-style="normal" text-anchor="middle" fill="#1a1a1a" >a</text>
<line x1="723.2" y1="159.3" x2="723.2" y2="163.8" stroke="#4a4a4a" stroke-width="0.8"/>
<line x1="719.8" y1="159.3" x2="726.6" y2="159.3" stroke="#4a4a4a" stroke-width="0.8"/>
<rect x="716.6" y="163.8" width="13.2" height="50.4" fill="#ffbfbf" stroke="#1a1a1a" stroke-width="1.25"/>
<text x="723.2" y="154.1" font-size="6.5" font-weight="normal" font-style="normal" text-anchor="middle" fill="#1a1a1a" >b</text>
<line x1="744.4" y1="152.1" x2="744.4" y2="154.1" stroke="#4a4a4a" stroke-width="0.8"/>
<line x1="741" y1="152.1" x2="747.8" y2="152.1" stroke="#4a4a4a" stroke-width="0.8"/>
<rect x="737.8" y="154.1" width="13.2" height="60.1" fill="#f2b87d" stroke="#1a1a1a" stroke-width="1.25"/>
<text x="744.4" y="146.1" font-size="6.5" font-weight="normal" font-style="normal" text-anchor="middle" fill="#1a1a1a" >ab</text>
<line x1="765.6" y1="139.4" x2="765.6" y2="143.2" stroke="#4a4a4a" stroke-width="0.8"/>
<line x1="762.2" y1="139.4" x2="769" y2="139.4" stroke="#4a4a4a" stroke-width="0.8"/>
<rect x="759" y="143.2" width="13.2" height="71" fill="#acdeac" stroke="#1a1a1a" stroke-width="1.25"/>
<text x="765.6" y="133.8" font-size="6.5" font-weight="normal" font-style="normal" text-anchor="middle" fill="#1a1a1a" >a</text>
<text x="634.7" y="224.2" font-size="6.0" font-weight="bold" font-style="normal" text-anchor="middle" fill="#111" stroke="#111" stroke-width="0.15">Jejunum</text>
<text x="733.8" y="224.2" font-size="6.0" font-weight="bold" font-style="normal" text-anchor="middle" fill="#111" stroke="#111" stroke-width="0.15">Ileum</text>
<text class="yl" transform="translate(568.2,173.95) rotate(-90)" x="0" y="0" dy="0.35em" font-size="6.6" font-weight="bold" font-style="normal" text-anchor="middle" textLength="78.1" lengthAdjust="spacingAndGlyphs" fill="#111">tissue T-SOD, U/mg protein</text>
<line x1="27.6" y1="243.9" x2="27.6" y2="325.7" stroke="#1e1e1e" stroke-width="1.45"/>
<line x1="27.1" y1="325.2" x2="219" y2="325.2" stroke="#1e1e1e" stroke-width="1.45"/>
<line x1="24" y1="325.2" x2="27.6" y2="325.2" stroke="#1e1e1e" stroke-width="1.45"/>
<text x="22.6" y="327.5" font-size="5.6" font-weight="bold" font-style="normal" text-anchor="end" fill="#111" stroke="#111" stroke-width="0.18">0</text>
<line x1="24" y1="305" x2="27.6" y2="305" stroke="#1e1e1e" stroke-width="1.45"/>
<text x="22.6" y="307.3" font-size="5.6" font-weight="bold" font-style="normal" text-anchor="end" fill="#111" stroke="#111" stroke-width="0.18">1</text>
<line x1="24" y1="284.8" x2="27.6" y2="284.8" stroke="#1e1e1e" stroke-width="1.45"/>
<text x="22.6" y="287.1" font-size="5.6" font-weight="bold" font-style="normal" text-anchor="end" fill="#111" stroke="#111" stroke-width="0.18">2</text>
<line x1="24" y1="264.6" x2="27.6" y2="264.6" stroke="#1e1e1e" stroke-width="1.45"/>
<text x="22.6" y="266.9" font-size="5.6" font-weight="bold" font-style="normal" text-anchor="end" fill="#111" stroke="#111" stroke-width="0.18">3</text>
<line x1="24" y1="244.4" x2="27.6" y2="244.4" stroke="#1e1e1e" stroke-width="1.45"/>
<text x="22.6" y="246.7" font-size="5.6" font-weight="bold" font-style="normal" text-anchor="end" fill="#111" stroke="#111" stroke-width="0.18">4</text>
<line x1="73.7" y1="325.2" x2="73.7" y2="328.8" stroke="#1e1e1e" stroke-width="1.45"/>
<line x1="172.7" y1="325.2" x2="172.7" y2="328.8" stroke="#1e1e1e" stroke-width="1.45"/>
<line x1="41.9" y1="273" x2="41.9" y2="281.6" stroke="#4a4a4a" stroke-width="0.8"/>
<line x1="38.5" y1="273" x2="45.3" y2="273" stroke="#4a4a4a" stroke-width="0.8"/>
<rect x="35.3" y="281.6" width="13.2" height="43.6" fill="#e6c1f5" stroke="#1a1a1a" stroke-width="1.25"/>
<line x1="63.1" y1="252.4" x2="63.1" y2="262.9" stroke="#4a4a4a" stroke-width="0.8"/>
<line x1="59.7" y1="252.4" x2="66.5" y2="252.4" stroke="#4a4a4a" stroke-width="0.8"/>
<rect x="56.5" y="262.9" width="13.2" height="62.3" fill="#ffbfbf" stroke="#1a1a1a" stroke-width="1.25"/>
<line x1="84.3" y1="279.5" x2="84.3" y2="286.3" stroke="#4a4a4a" stroke-width="0.8"/>
<line x1="80.9" y1="279.5" x2="87.7" y2="279.5" stroke="#4a4a4a" stroke-width="0.8"/>
<rect x="77.7" y="286.3" width="13.2" height="38.9" fill="#f2b87d" stroke="#1a1a1a" stroke-width="1.25"/>
<line x1="105.5" y1="284.1" x2="105.5" y2="289.8" stroke="#4a4a4a" stroke-width="0.8"/>
<line x1="102.1" y1="284.1" x2="108.9" y2="284.1" stroke="#4a4a4a" stroke-width="0.8"/>
<rect x="98.9" y="289.8" width="13.2" height="35.4" fill="#acdeac" stroke="#1a1a1a" stroke-width="1.25"/>
<line x1="140.9" y1="281.2" x2="140.9" y2="290.7" stroke="#4a4a4a" stroke-width="0.8"/>
<line x1="137.5" y1="281.2" x2="144.3" y2="281.2" stroke="#4a4a4a" stroke-width="0.8"/>
<rect x="134.3" y="290.7" width="13.2" height="34.5" fill="#e6c1f5" stroke="#1a1a1a" stroke-width="1.25"/>
<text x="140.9" y="272.5" font-size="6.5" font-weight="normal" font-style="normal" text-anchor="middle" fill="#1a1a1a" >b</text>
<line x1="162.1" y1="256.6" x2="162.1" y2="264.7" stroke="#4a4a4a" stroke-width="0.8"/>
<line x1="158.7" y1="256.6" x2="165.5" y2="256.6" stroke="#4a4a4a" stroke-width="0.8"/>
<rect x="155.5" y="264.7" width="13.2" height="60.5" fill="#ffbfbf" stroke="#1a1a1a" stroke-width="1.25"/>
<text x="162.1" y="250.7" font-size="6.5" font-weight="normal" font-style="normal" text-anchor="middle" fill="#1a1a1a" >a</text>
<line x1="183.3" y1="290" x2="183.3" y2="293.7" stroke="#4a4a4a" stroke-width="0.8"/>
<line x1="179.9" y1="290" x2="186.7" y2="290" stroke="#4a4a4a" stroke-width="0.8"/>
<rect x="176.7" y="293.7" width="13.2" height="31.5" fill="#f2b87d" stroke="#1a1a1a" stroke-width="1.25"/>
<text x="183.3" y="284.4" font-size="6.5" font-weight="normal" font-style="normal" text-anchor="middle" fill="#1a1a1a" >ab</text>
<line x1="204.5" y1="276.1" x2="204.5" y2="286.6" stroke="#4a4a4a" stroke-width="0.8"/>
<line x1="201.1" y1="276.1" x2="207.9" y2="276.1" stroke="#4a4a4a" stroke-width="0.8"/>
<rect x="197.9" y="286.6" width="13.2" height="38.6" fill="#acdeac" stroke="#1a1a1a" stroke-width="1.25"/>
<text x="204.5" y="270.6" font-size="6.5" font-weight="normal" font-style="normal" text-anchor="middle" fill="#1a1a1a" >ab</text>
<text x="73.7" y="335.3" font-size="6.0" font-weight="bold" font-style="normal" text-anchor="middle" fill="#111" stroke="#111" stroke-width="0.15">Jejunum</text>
<text x="172.7" y="335.3" font-size="6.0" font-weight="bold" font-style="normal" text-anchor="middle" fill="#111" stroke="#111" stroke-width="0.15">Ileum</text>
<text class="yl" transform="translate(13.8,284.55) rotate(-90)" x="0" y="0" dy="0.35em" font-size="6.6" font-weight="bold" font-style="normal" text-anchor="middle" textLength="82.3" lengthAdjust="spacingAndGlyphs" fill="#111">tissue MDA, nmol/mg protein</text>
<line x1="302.6" y1="243.9" x2="302.6" y2="325.7" stroke="#1e1e1e" stroke-width="1.45"/>
<line x1="302.1" y1="325.2" x2="493.9" y2="325.2" stroke="#1e1e1e" stroke-width="1.45"/>
<line x1="299" y1="325.2" x2="302.6" y2="325.2" stroke="#1e1e1e" stroke-width="1.45"/>
<text x="297.6" y="327.5" font-size="5.6" font-weight="bold" font-style="normal" text-anchor="end" fill="#111" stroke="#111" stroke-width="0.18">0.0</text>
<line x1="299" y1="298.27" x2="302.6" y2="298.27" stroke="#1e1e1e" stroke-width="1.45"/>
<text x="297.6" y="300.57" font-size="5.6" font-weight="bold" font-style="normal" text-anchor="end" fill="#111" stroke="#111" stroke-width="0.18">0.5</text>
<line x1="299" y1="271.33" x2="302.6" y2="271.33" stroke="#1e1e1e" stroke-width="1.45"/>
<text x="297.6" y="273.63" font-size="5.6" font-weight="bold" font-style="normal" text-anchor="end" fill="#111" stroke="#111" stroke-width="0.18">1.0</text>
<line x1="299" y1="244.4" x2="302.6" y2="244.4" stroke="#1e1e1e" stroke-width="1.45"/>
<text x="297.6" y="246.7" font-size="5.6" font-weight="bold" font-style="normal" text-anchor="end" fill="#111" stroke="#111" stroke-width="0.18">1.5</text>
<line x1="348.8" y1="325.2" x2="348.8" y2="328.8" stroke="#1e1e1e" stroke-width="1.45"/>
<line x1="448" y1="325.2" x2="448" y2="328.8" stroke="#1e1e1e" stroke-width="1.45"/>
<line x1="317" y1="267.2" x2="317" y2="272.1" stroke="#4a4a4a" stroke-width="0.8"/>
<line x1="313.6" y1="267.2" x2="320.4" y2="267.2" stroke="#4a4a4a" stroke-width="0.8"/>
<rect x="310.4" y="272.1" width="13.2" height="53.1" fill="#e6c1f5" stroke="#1a1a1a" stroke-width="1.25"/>
<text x="317" y="261.9" font-size="6.5" font-weight="normal" font-style="normal" text-anchor="middle" fill="#1a1a1a" >ab</text>
<line x1="338.2" y1="283.9" x2="338.2" y2="290.8" stroke="#4a4a4a" stroke-width="0.8"/>
<line x1="334.8" y1="283.9" x2="341.6" y2="283.9" stroke="#4a4a4a" stroke-width="0.8"/>
<rect x="331.6" y="290.8" width="13.2" height="34.4" fill="#ffbfbf" stroke="#1a1a1a" stroke-width="1.25"/>
<text x="338.2" y="278.6" font-size="6.5" font-weight="normal" font-style="normal" text-anchor="middle" fill="#1a1a1a" >b</text>
<line x1="359.4" y1="287.4" x2="359.4" y2="291.6" stroke="#4a4a4a" stroke-width="0.8"/>
<line x1="356" y1="287.4" x2="362.8" y2="287.4" stroke="#4a4a4a" stroke-width="0.8"/>
<rect x="352.8" y="291.6" width="13.2" height="33.6" fill="#f2b87d" stroke="#1a1a1a" stroke-width="1.25"/>
<text x="359.4" y="281.6" font-size="6.5" font-weight="normal" font-style="normal" text-anchor="middle" fill="#1a1a1a" >b</text>
<line x1="380.6" y1="259.4" x2="380.6" y2="267.2" stroke="#4a4a4a" stroke-width="0.8"/>
<line x1="377.2" y1="259.4" x2="384" y2="259.4" stroke="#4a4a4a" stroke-width="0.8"/>
<rect x="374" y="267.2" width="13.2" height="58" fill="#acdeac" stroke="#1a1a1a" stroke-width="1.25"/>
<text x="380.6" y="253.5" font-size="6.5" font-weight="normal" font-style="normal" text-anchor="middle" fill="#1a1a1a" >a</text>
<line x1="416.2" y1="264.7" x2="416.2" y2="272.1" stroke="#4a4a4a" stroke-width="0.8"/>
<line x1="412.8" y1="264.7" x2="419.6" y2="264.7" stroke="#4a4a4a" stroke-width="0.8"/>
<rect x="409.6" y="272.1" width="13.2" height="53.1" fill="#e6c1f5" stroke="#1a1a1a" stroke-width="1.25"/>
<text x="416.2" y="258.6" font-size="6.5" font-weight="normal" font-style="normal" text-anchor="middle" fill="#1a1a1a" >a</text>
<line x1="437.4" y1="292.3" x2="437.4" y2="298" stroke="#4a4a4a" stroke-width="0.8"/>
<line x1="434" y1="292.3" x2="440.8" y2="292.3" stroke="#4a4a4a" stroke-width="0.8"/>
<rect x="430.8" y="298" width="13.2" height="27.2" fill="#ffbfbf" stroke="#1a1a1a" stroke-width="1.25"/>
<text x="437.4" y="285.9" font-size="6.5" font-weight="normal" font-style="normal" text-anchor="middle" fill="#1a1a1a" >b</text>
<line x1="458.6" y1="277.6" x2="458.6" y2="283.3" stroke="#4a4a4a" stroke-width="0.8"/>
<line x1="455.2" y1="277.6" x2="462" y2="277.6" stroke="#4a4a4a" stroke-width="0.8"/>
<rect x="452" y="283.3" width="13.2" height="41.9" fill="#f2b87d" stroke="#1a1a1a" stroke-width="1.25"/>
<text x="458.6" y="272.7" font-size="6.5" font-weight="normal" font-style="normal" text-anchor="middle" fill="#1a1a1a" >ab</text>
<line x1="479.8" y1="260.7" x2="479.8" y2="269.2" stroke="#4a4a4a" stroke-width="0.8"/>
<line x1="476.4" y1="260.7" x2="483.2" y2="260.7" stroke="#4a4a4a" stroke-width="0.8"/>
<rect x="473.2" y="269.2" width="13.2" height="56" fill="#acdeac" stroke="#1a1a1a" stroke-width="1.25"/>
<text x="479.8" y="255.1" font-size="6.5" font-weight="normal" font-style="normal" text-anchor="middle" fill="#1a1a1a" >a</text>
<text x="348.8" y="335.3" font-size="6.0" font-weight="bold" font-style="normal" text-anchor="middle" fill="#111" stroke="#111" stroke-width="0.15">Jejunum</text>
<text x="448" y="335.3" font-size="6.0" font-weight="bold" font-style="normal" text-anchor="middle" fill="#111" stroke="#111" stroke-width="0.15">Ileum</text>
<text class="yl" transform="translate(275.4,284.9) rotate(-90)" x="0" y="0" dy="0.35em" font-size="6.6" font-weight="bold" font-style="italic" text-anchor="middle" fill="#111">CAT</text>
<text class="yl" transform="translate(284.4,284.9) rotate(-90)" x="0" y="0" dy="0.35em" font-size="6.6" font-weight="bold" font-style="normal" text-anchor="middle" textLength="74.6" lengthAdjust="spacingAndGlyphs" fill="#111">relative mRNA abundance</text>
<line x1="588.4" y1="243.9" x2="588.4" y2="325.7" stroke="#1e1e1e" stroke-width="1.45"/>
<line x1="587.9" y1="325.2" x2="781" y2="325.2" stroke="#1e1e1e" stroke-width="1.45"/>
<line x1="584.8" y1="325.2" x2="588.4" y2="325.2" stroke="#1e1e1e" stroke-width="1.45"/>
<text x="583.4" y="327.5" font-size="5.6" font-weight="bold" font-style="normal" text-anchor="end" fill="#111" stroke="#111" stroke-width="0.18">0.0</text>
<line x1="584.8" y1="298.27" x2="588.4" y2="298.27" stroke="#1e1e1e" stroke-width="1.45"/>
<text x="583.4" y="300.57" font-size="5.6" font-weight="bold" font-style="normal" text-anchor="end" fill="#111" stroke="#111" stroke-width="0.18">0.5</text>
<line x1="584.8" y1="271.33" x2="588.4" y2="271.33" stroke="#1e1e1e" stroke-width="1.45"/>
<text x="583.4" y="273.63" font-size="5.6" font-weight="bold" font-style="normal" text-anchor="end" fill="#111" stroke="#111" stroke-width="0.18">1.0</text>
<line x1="584.8" y1="244.4" x2="588.4" y2="244.4" stroke="#1e1e1e" stroke-width="1.45"/>
<text x="583.4" y="246.7" font-size="5.6" font-weight="bold" font-style="normal" text-anchor="end" fill="#111" stroke="#111" stroke-width="0.18">1.5</text>
<line x1="634.2" y1="325.2" x2="634.2" y2="328.8" stroke="#1e1e1e" stroke-width="1.45"/>
<line x1="734" y1="325.2" x2="734" y2="328.8" stroke="#1e1e1e" stroke-width="1.45"/>
<line x1="602.4" y1="263.5" x2="602.4" y2="272.3" stroke="#4a4a4a" stroke-width="0.8"/>
<line x1="599" y1="263.5" x2="605.8" y2="263.5" stroke="#4a4a4a" stroke-width="0.8"/>
<rect x="595.8" y="272.3" width="13.2" height="52.9" fill="#e6c1f5" stroke="#1a1a1a" stroke-width="1.25"/>
<text x="602.4" y="258.1" font-size="6.5" font-weight="normal" font-style="normal" text-anchor="middle" fill="#1a1a1a" >a</text>
<line x1="623.6" y1="288.4" x2="623.6" y2="296.8" stroke="#4a4a4a" stroke-width="0.8"/>
<line x1="620.2" y1="288.4" x2="627" y2="288.4" stroke="#4a4a4a" stroke-width="0.8"/>
<rect x="617" y="296.8" width="13.2" height="28.4" fill="#ffbfbf" stroke="#1a1a1a" stroke-width="1.25"/>
<text x="623.6" y="282.6" font-size="6.5" font-weight="normal" font-style="normal" text-anchor="middle" fill="#1a1a1a" >b</text>
<line x1="644.8" y1="292.5" x2="644.8" y2="294.7" stroke="#4a4a4a" stroke-width="0.8"/>
<line x1="641.4" y1="292.5" x2="648.2" y2="292.5" stroke="#4a4a4a" stroke-width="0.8"/>
<rect x="638.2" y="294.7" width="13.2" height="30.5" fill="#f2b87d" stroke="#1a1a1a" stroke-width="1.25"/>
<text x="644.8" y="286.3" font-size="6.5" font-weight="normal" font-style="normal" text-anchor="middle" fill="#1a1a1a" >ab</text>
<line x1="666" y1="271.5" x2="666" y2="276.8" stroke="#4a4a4a" stroke-width="0.8"/>
<line x1="662.6" y1="271.5" x2="669.4" y2="271.5" stroke="#4a4a4a" stroke-width="0.8"/>
<rect x="659.4" y="276.8" width="13.2" height="48.4" fill="#acdeac" stroke="#1a1a1a" stroke-width="1.25"/>
<text x="666" y="264.9" font-size="6.5" font-weight="normal" font-style="normal" text-anchor="middle" fill="#1a1a1a" >ab</text>
<line x1="702.2" y1="262.9" x2="702.2" y2="272.1" stroke="#4a4a4a" stroke-width="0.8"/>
<line x1="698.8" y1="262.9" x2="705.6" y2="262.9" stroke="#4a4a4a" stroke-width="0.8"/>
<rect x="695.6" y="272.1" width="13.2" height="53.1" fill="#e6c1f5" stroke="#1a1a1a" stroke-width="1.25"/>
<text x="702.2" y="257.4" font-size="6.5" font-weight="normal" font-style="normal" text-anchor="middle" fill="#1a1a1a" >a</text>
<line x1="723.4" y1="297.6" x2="723.4" y2="302.4" stroke="#4a4a4a" stroke-width="0.8"/>
<line x1="720" y1="297.6" x2="726.8" y2="297.6" stroke="#4a4a4a" stroke-width="0.8"/>
<rect x="716.8" y="302.4" width="13.2" height="22.8" fill="#ffbfbf" stroke="#1a1a1a" stroke-width="1.25"/>
<text x="723.4" y="291.4" font-size="6.5" font-weight="normal" font-style="normal" text-anchor="middle" fill="#1a1a1a" >b</text>
<line x1="744.6" y1="294.7" x2="744.6" y2="298" stroke="#4a4a4a" stroke-width="0.8"/>
<line x1="741.2" y1="294.7" x2="748" y2="294.7" stroke="#4a4a4a" stroke-width="0.8"/>
<rect x="738" y="298" width="13.2" height="27.2" fill="#f2b87d" stroke="#1a1a1a" stroke-width="1.25"/>
<text x="744.6" y="289" font-size="6.5" font-weight="normal" font-style="normal" text-anchor="middle" fill="#1a1a1a" >b</text>
<line x1="765.8" y1="253.1" x2="765.8" y2="259.8" stroke="#4a4a4a" stroke-width="0.8"/>
<line x1="762.4" y1="253.1" x2="769.2" y2="253.1" stroke="#4a4a4a" stroke-width="0.8"/>
<rect x="759.2" y="259.8" width="13.2" height="65.4" fill="#acdeac" stroke="#1a1a1a" stroke-width="1.25"/>
<text x="765.8" y="247.2" font-size="6.5" font-weight="normal" font-style="normal" text-anchor="middle" fill="#1a1a1a" >a</text>
<text x="634.2" y="335.3" font-size="6.0" font-weight="bold" font-style="normal" text-anchor="middle" fill="#111" stroke="#111" stroke-width="0.15">Jejunum</text>
<text x="734" y="335.3" font-size="6.0" font-weight="bold" font-style="normal" text-anchor="middle" fill="#111" stroke="#111" stroke-width="0.15">Ileum</text>
<text class="yl" transform="translate(562.1,285.1) rotate(-90)" x="0" y="0" dy="0.35em" font-size="6.6" font-weight="bold" font-style="italic" text-anchor="middle" fill="#111">SOD1</text>
<text class="yl" transform="translate(570.8,285.15) rotate(-90)" x="0" y="0" dy="0.35em" font-size="6.6" font-weight="bold" font-style="normal" text-anchor="middle" textLength="74.9" lengthAdjust="spacingAndGlyphs" fill="#111">relative mRNA abundance</text>
<line x1="28.7" y1="360.2" x2="28.7" y2="441.7" stroke="#1e1e1e" stroke-width="1.45"/>
<line x1="28.2" y1="441.2" x2="219.8" y2="441.2" stroke="#1e1e1e" stroke-width="1.45"/>
<line x1="25.1" y1="441.2" x2="28.7" y2="441.2" stroke="#1e1e1e" stroke-width="1.45"/>
<text x="23.7" y="443.5" font-size="5.6" font-weight="bold" font-style="normal" text-anchor="end" fill="#111" stroke="#111" stroke-width="0.18">0</text>
<line x1="25.1" y1="421.07" x2="28.7" y2="421.07" stroke="#1e1e1e" stroke-width="1.45"/>
<text x="23.7" y="423.38" font-size="5.6" font-weight="bold" font-style="normal" text-anchor="end" fill="#111" stroke="#111" stroke-width="0.18">1</text>
<line x1="25.1" y1="400.95" x2="28.7" y2="400.95" stroke="#1e1e1e" stroke-width="1.45"/>
<text x="23.7" y="403.25" font-size="5.6" font-weight="bold" font-style="normal" text-anchor="end" fill="#111" stroke="#111" stroke-width="0.18">2</text>
<line x1="25.1" y1="380.82" x2="28.7" y2="380.82" stroke="#1e1e1e" stroke-width="1.45"/>
<text x="23.7" y="383.12" font-size="5.6" font-weight="bold" font-style="normal" text-anchor="end" fill="#111" stroke="#111" stroke-width="0.18">3</text>
<line x1="25.1" y1="360.7" x2="28.7" y2="360.7" stroke="#1e1e1e" stroke-width="1.45"/>
<text x="23.7" y="363" font-size="5.6" font-weight="bold" font-style="normal" text-anchor="end" fill="#111" stroke="#111" stroke-width="0.18">4</text>
<line x1="74.7" y1="441.2" x2="74.7" y2="444.8" stroke="#1e1e1e" stroke-width="1.45"/>
<line x1="173.8" y1="441.2" x2="173.8" y2="444.8" stroke="#1e1e1e" stroke-width="1.45"/>
<line x1="42.9" y1="416.2" x2="42.9" y2="420.7" stroke="#4a4a4a" stroke-width="0.8"/>
<line x1="39.5" y1="416.2" x2="46.3" y2="416.2" stroke="#4a4a4a" stroke-width="0.8"/>
<rect x="36.3" y="420.7" width="13.2" height="20.5" fill="#e6c1f5" stroke="#1a1a1a" stroke-width="1.25"/>
<text x="42.9" y="409.6" font-size="6.5" font-weight="normal" font-style="normal" text-anchor="middle" fill="#1a1a1a" >b</text>
<line x1="64.1" y1="370.4" x2="64.1" y2="377.6" stroke="#4a4a4a" stroke-width="0.8"/>
<line x1="60.7" y1="370.4" x2="67.5" y2="370.4" stroke="#4a4a4a" stroke-width="0.8"/>
<rect x="57.5" y="377.6" width="13.2" height="63.6" fill="#ffbfbf" stroke="#1a1a1a" stroke-width="1.25"/>
<text x="64.1" y="364.9" font-size="6.5" font-weight="normal" font-style="normal" text-anchor="middle" fill="#1a1a1a" >a</text>
<line x1="85.3" y1="426.5" x2="85.3" y2="428.5" stroke="#4a4a4a" stroke-width="0.8"/>
<line x1="81.9" y1="426.5" x2="88.7" y2="426.5" stroke="#4a4a4a" stroke-width="0.8"/>
<rect x="78.7" y="428.5" width="13.2" height="12.7" fill="#f2b87d" stroke="#1a1a1a" stroke-width="1.25"/>
<text x="85.3" y="420.3" font-size="6.5" font-weight="normal" font-style="normal" text-anchor="middle" fill="#1a1a1a" >b</text>
<line x1="106.5" y1="413.8" x2="106.5" y2="416.6" stroke="#4a4a4a" stroke-width="0.8"/>
<line x1="103.1" y1="413.8" x2="109.9" y2="413.8" stroke="#4a4a4a" stroke-width="0.8"/>
<rect x="99.9" y="416.6" width="13.2" height="24.6" fill="#acdeac" stroke="#1a1a1a" stroke-width="1.25"/>
<text x="106.5" y="408.2" font-size="6.5" font-weight="normal" font-style="normal" text-anchor="middle" fill="#1a1a1a" >b</text>
<line x1="142" y1="417.6" x2="142" y2="420.9" stroke="#4a4a4a" stroke-width="0.8"/>
<line x1="138.6" y1="417.6" x2="145.4" y2="417.6" stroke="#4a4a4a" stroke-width="0.8"/>
<rect x="135.4" y="420.9" width="13.2" height="20.3" fill="#e6c1f5" stroke="#1a1a1a" stroke-width="1.25"/>
<text x="142" y="411.3" font-size="6.5" font-weight="normal" font-style="normal" text-anchor="middle" fill="#1a1a1a" >b</text>
<line x1="163.2" y1="374.8" x2="163.2" y2="379.7" stroke="#4a4a4a" stroke-width="0.8"/>
<line x1="159.8" y1="374.8" x2="166.6" y2="374.8" stroke="#4a4a4a" stroke-width="0.8"/>
<rect x="156.6" y="379.7" width="13.2" height="61.5" fill="#ffbfbf" stroke="#1a1a1a" stroke-width="1.25"/>
<text x="163.2" y="370.5" font-size="6.5" font-weight="normal" font-style="normal" text-anchor="middle" fill="#1a1a1a" >a</text>
<line x1="184.4" y1="428.4" x2="184.4" y2="430.1" stroke="#4a4a4a" stroke-width="0.8"/>
<line x1="181" y1="428.4" x2="187.8" y2="428.4" stroke="#4a4a4a" stroke-width="0.8"/>
<rect x="177.8" y="430.1" width="13.2" height="11.1" fill="#f2b87d" stroke="#1a1a1a" stroke-width="1.25"/>
<text x="184.4" y="422.1" font-size="6.5" font-weight="normal" font-style="normal" text-anchor="middle" fill="#1a1a1a" >b</text>
<line x1="205.6" y1="415.2" x2="205.6" y2="419.3" stroke="#4a4a4a" stroke-width="0.8"/>
<line x1="202.2" y1="415.2" x2="209" y2="415.2" stroke="#4a4a4a" stroke-width="0.8"/>
<rect x="199" y="419.3" width="13.2" height="21.9" fill="#acdeac" stroke="#1a1a1a" stroke-width="1.25"/>
<text x="205.6" y="409.3" font-size="6.5" font-weight="normal" font-style="normal" text-anchor="middle" fill="#1a1a1a" >b</text>
<text x="74.7" y="450.5" font-size="6.0" font-weight="bold" font-style="normal" text-anchor="middle" fill="#111" stroke="#111" stroke-width="0.15">Jejunum</text>
<text x="173.8" y="450.5" font-size="6.0" font-weight="bold" font-style="normal" text-anchor="middle" fill="#111" stroke="#111" stroke-width="0.15">Ileum</text>
<text class="yl" transform="translate(6,400.3) rotate(-90)" x="0" y="0" dy="0.35em" font-size="6.6" font-weight="bold" font-style="italic" text-anchor="middle" fill="#111">Keap1</text>
<text class="yl" transform="translate(15,399.8) rotate(-90)" x="0" y="0" dy="0.35em" font-size="6.6" font-weight="bold" font-style="normal" text-anchor="middle" textLength="74.8" lengthAdjust="spacingAndGlyphs" fill="#111">relative mRNA abundance</text>
<line x1="302.8" y1="360.2" x2="302.8" y2="441.7" stroke="#1e1e1e" stroke-width="1.45"/>
<line x1="302.3" y1="441.2" x2="494.5" y2="441.2" stroke="#1e1e1e" stroke-width="1.45"/>
<line x1="299.2" y1="441.2" x2="302.8" y2="441.2" stroke="#1e1e1e" stroke-width="1.45"/>
<text x="297.8" y="443.5" font-size="5.6" font-weight="bold" font-style="normal" text-anchor="end" fill="#111" stroke="#111" stroke-width="0.18">0.0</text>
<line x1="299.2" y1="414.37" x2="302.8" y2="414.37" stroke="#1e1e1e" stroke-width="1.45"/>
<text x="297.8" y="416.67" font-size="5.6" font-weight="bold" font-style="normal" text-anchor="end" fill="#111" stroke="#111" stroke-width="0.18">0.5</text>
<line x1="299.2" y1="387.53" x2="302.8" y2="387.53" stroke="#1e1e1e" stroke-width="1.45"/>
<text x="297.8" y="389.83" font-size="5.6" font-weight="bold" font-style="normal" text-anchor="end" fill="#111" stroke="#111" stroke-width="0.18">1.0</text>
<line x1="299.2" y1="360.7" x2="302.8" y2="360.7" stroke="#1e1e1e" stroke-width="1.45"/>
<text x="297.8" y="363" font-size="5.6" font-weight="bold" font-style="normal" text-anchor="end" fill="#111" stroke="#111" stroke-width="0.18">1.5</text>
<line x1="348.9" y1="441.2" x2="348.9" y2="444.8" stroke="#1e1e1e" stroke-width="1.45"/>
<line x1="448" y1="441.2" x2="448" y2="444.8" stroke="#1e1e1e" stroke-width="1.45"/>
<line x1="317.1" y1="381.3" x2="317.1" y2="388.5" stroke="#4a4a4a" stroke-width="0.8"/>
<line x1="313.7" y1="381.3" x2="320.5" y2="381.3" stroke="#4a4a4a" stroke-width="0.8"/>
<rect x="310.5" y="388.5" width="13.2" height="52.7" fill="#e6c1f5" stroke="#1a1a1a" stroke-width="1.25"/>
<line x1="338.3" y1="389.5" x2="338.3" y2="398.8" stroke="#4a4a4a" stroke-width="0.8"/>
<line x1="334.9" y1="389.5" x2="341.7" y2="389.5" stroke="#4a4a4a" stroke-width="0.8"/>
<rect x="331.7" y="398.8" width="13.2" height="42.4" fill="#ffbfbf" stroke="#1a1a1a" stroke-width="1.25"/>
<line x1="359.5" y1="406.4" x2="359.5" y2="410.5" stroke="#4a4a4a" stroke-width="0.8"/>
<line x1="356.1" y1="406.4" x2="362.9" y2="406.4" stroke="#4a4a4a" stroke-width="0.8"/>
<rect x="352.9" y="410.5" width="13.2" height="30.7" fill="#f2b87d" stroke="#1a1a1a" stroke-width="1.25"/>
<line x1="380.7" y1="385.4" x2="380.7" y2="393" stroke="#4a4a4a" stroke-width="0.8"/>
<line x1="377.3" y1="385.4" x2="384.1" y2="385.4" stroke="#4a4a4a" stroke-width="0.8"/>
<rect x="374.1" y="393" width="13.2" height="48.2" fill="#acdeac" stroke="#1a1a1a" stroke-width="1.25"/>
<line x1="416.2" y1="382.2" x2="416.2" y2="388.5" stroke="#4a4a4a" stroke-width="0.8"/>
<line x1="412.8" y1="382.2" x2="419.6" y2="382.2" stroke="#4a4a4a" stroke-width="0.8"/>
<rect x="409.6" y="388.5" width="13.2" height="52.7" fill="#e6c1f5" stroke="#1a1a1a" stroke-width="1.25"/>
<text x="416.2" y="376.9" font-size="6.5" font-weight="normal" font-style="normal" text-anchor="middle" fill="#1a1a1a" >ab</text>
<line x1="437.4" y1="398.3" x2="437.4" y2="405.2" stroke="#4a4a4a" stroke-width="0.8"/>
<line x1="434" y1="398.3" x2="440.8" y2="398.3" stroke="#4a4a4a" stroke-width="0.8"/>
<rect x="430.8" y="405.2" width="13.2" height="36" fill="#ffbfbf" stroke="#1a1a1a" stroke-width="1.25"/>
<text x="437.4" y="391.3" font-size="6.5" font-weight="normal" font-style="normal" text-anchor="middle" fill="#1a1a1a" >bc</text>
<line x1="458.6" y1="406.4" x2="458.6" y2="410.1" stroke="#4a4a4a" stroke-width="0.8"/>
<line x1="455.2" y1="406.4" x2="462" y2="406.4" stroke="#4a4a4a" stroke-width="0.8"/>
<rect x="452" y="410.1" width="13.2" height="31.1" fill="#f2b87d" stroke="#1a1a1a" stroke-width="1.25"/>
<text x="458.6" y="400.9" font-size="6.5" font-weight="normal" font-style="normal" text-anchor="middle" fill="#1a1a1a" >c</text>
<line x1="479.8" y1="379.3" x2="479.8" y2="386" stroke="#4a4a4a" stroke-width="0.8"/>
<line x1="476.4" y1="379.3" x2="483.2" y2="379.3" stroke="#4a4a4a" stroke-width="0.8"/>
<rect x="473.2" y="386" width="13.2" height="55.2" fill="#acdeac" stroke="#1a1a1a" stroke-width="1.25"/>
<text x="479.8" y="374" font-size="6.5" font-weight="normal" font-style="normal" text-anchor="middle" fill="#1a1a1a" >a</text>
<text x="348.9" y="450.5" font-size="6.0" font-weight="bold" font-style="normal" text-anchor="middle" fill="#111" stroke="#111" stroke-width="0.15">Jejunum</text>
<text x="448" y="450.5" font-size="6.0" font-weight="bold" font-style="normal" text-anchor="middle" fill="#111" stroke="#111" stroke-width="0.15">Ileum</text>
<text class="yl" transform="translate(276,401.3) rotate(-90)" x="0" y="0" dy="0.35em" font-size="6.6" font-weight="bold" font-style="italic" text-anchor="middle" fill="#111">NQO1</text>
<text class="yl" transform="translate(285.1,401.35) rotate(-90)" x="0" y="0" dy="0.35em" font-size="6.6" font-weight="bold" font-style="normal" text-anchor="middle" textLength="74.9" lengthAdjust="spacingAndGlyphs" fill="#111">relative mRNA abundance</text>
<line x1="588.4" y1="360.2" x2="588.4" y2="441.7" stroke="#1e1e1e" stroke-width="1.45"/>
<line x1="587.9" y1="441.2" x2="781" y2="441.2" stroke="#1e1e1e" stroke-width="1.45"/>
<line x1="584.8" y1="441.2" x2="588.4" y2="441.2" stroke="#1e1e1e" stroke-width="1.45"/>
<text x="583.4" y="443.5" font-size="5.6" font-weight="bold" font-style="normal" text-anchor="end" fill="#111" stroke="#111" stroke-width="0.18">0.0</text>
<line x1="584.8" y1="414.37" x2="588.4" y2="414.37" stroke="#1e1e1e" stroke-width="1.45"/>
<text x="583.4" y="416.67" font-size="5.6" font-weight="bold" font-style="normal" text-anchor="end" fill="#111" stroke="#111" stroke-width="0.18">0.5</text>
<line x1="584.8" y1="387.53" x2="588.4" y2="387.53" stroke="#1e1e1e" stroke-width="1.45"/>
<text x="583.4" y="389.83" font-size="5.6" font-weight="bold" font-style="normal" text-anchor="end" fill="#111" stroke="#111" stroke-width="0.18">1.0</text>
<line x1="584.8" y1="360.7" x2="588.4" y2="360.7" stroke="#1e1e1e" stroke-width="1.45"/>
<text x="583.4" y="363" font-size="5.6" font-weight="bold" font-style="normal" text-anchor="end" fill="#111" stroke="#111" stroke-width="0.18">1.5</text>
<line x1="634.7" y1="441.2" x2="634.7" y2="444.8" stroke="#1e1e1e" stroke-width="1.45"/>
<line x1="734" y1="441.2" x2="734" y2="444.8" stroke="#1e1e1e" stroke-width="1.45"/>
<line x1="602.9" y1="378.7" x2="602.9" y2="388.5" stroke="#4a4a4a" stroke-width="0.8"/>
<line x1="599.5" y1="378.7" x2="606.3" y2="378.7" stroke="#4a4a4a" stroke-width="0.8"/>
<rect x="596.3" y="388.5" width="13.2" height="52.7" fill="#e6c1f5" stroke="#1a1a1a" stroke-width="1.25"/>
<line x1="624.1" y1="401.4" x2="624.1" y2="405.9" stroke="#4a4a4a" stroke-width="0.8"/>
<line x1="620.7" y1="401.4" x2="627.5" y2="401.4" stroke="#4a4a4a" stroke-width="0.8"/>
<rect x="617.5" y="405.9" width="13.2" height="35.3" fill="#ffbfbf" stroke="#1a1a1a" stroke-width="1.25"/>
<line x1="645.3" y1="401.4" x2="645.3" y2="404.9" stroke="#4a4a4a" stroke-width="0.8"/>
<line x1="641.9" y1="401.4" x2="648.7" y2="401.4" stroke="#4a4a4a" stroke-width="0.8"/>
<rect x="638.7" y="404.9" width="13.2" height="36.3" fill="#f2b87d" stroke="#1a1a1a" stroke-width="1.25"/>
<line x1="666.5" y1="378.9" x2="666.5" y2="385.2" stroke="#4a4a4a" stroke-width="0.8"/>
<line x1="663.1" y1="378.9" x2="669.9" y2="378.9" stroke="#4a4a4a" stroke-width="0.8"/>
<rect x="659.9" y="385.2" width="13.2" height="56" fill="#acdeac" stroke="#1a1a1a" stroke-width="1.25"/>
<line x1="702.2" y1="383.2" x2="702.2" y2="388.5" stroke="#4a4a4a" stroke-width="0.8"/>
<line x1="698.8" y1="383.2" x2="705.6" y2="383.2" stroke="#4a4a4a" stroke-width="0.8"/>
<rect x="695.6" y="388.5" width="13.2" height="52.7" fill="#e6c1f5" stroke="#1a1a1a" stroke-width="1.25"/>
<text x="702.2" y="376.9" font-size="6.5" font-weight="normal" font-style="normal" text-anchor="middle" fill="#1a1a1a" >b</text>
<line x1="723.4" y1="411.3" x2="723.4" y2="416" stroke="#4a4a4a" stroke-width="0.8"/>
<line x1="720" y1="411.3" x2="726.8" y2="411.3" stroke="#4a4a4a" stroke-width="0.8"/>
<rect x="716.8" y="416" width="13.2" height="25.2" fill="#ffbfbf" stroke="#1a1a1a" stroke-width="1.25"/>
<text x="723.4" y="406" font-size="6.5" font-weight="normal" font-style="normal" text-anchor="middle" fill="#1a1a1a" >a</text>
<line x1="744.6" y1="404.2" x2="744.6" y2="407.2" stroke="#4a4a4a" stroke-width="0.8"/>
<line x1="741.2" y1="404.2" x2="748" y2="404.2" stroke="#4a4a4a" stroke-width="0.8"/>
<rect x="738" y="407.2" width="13.2" height="34" fill="#f2b87d" stroke="#1a1a1a" stroke-width="1.25"/>
<text x="744.6" y="398.5" font-size="6.5" font-weight="normal" font-style="normal" text-anchor="middle" fill="#1a1a1a" >a</text>
<line x1="765.8" y1="378.3" x2="765.8" y2="386.5" stroke="#4a4a4a" stroke-width="0.8"/>
<line x1="762.4" y1="378.3" x2="769.2" y2="378.3" stroke="#4a4a4a" stroke-width="0.8"/>
<rect x="759.2" y="386.5" width="13.2" height="54.7" fill="#acdeac" stroke="#1a1a1a" stroke-width="1.25"/>
<text x="765.8" y="372.4" font-size="6.5" font-weight="normal" font-style="normal" text-anchor="middle" fill="#1a1a1a" >b</text>
<text x="634.7" y="450.5" font-size="6.0" font-weight="bold" font-style="normal" text-anchor="middle" fill="#111" stroke="#111" stroke-width="0.15">Jejunum</text>
<text x="734" y="450.5" font-size="6.0" font-weight="bold" font-style="normal" text-anchor="middle" fill="#111" stroke="#111" stroke-width="0.15">Ileum</text>
<text class="yl" transform="translate(562.1,401.3) rotate(-90)" x="0" y="0" dy="0.35em" font-size="6.6" font-weight="bold" font-style="italic" text-anchor="middle" fill="#111">HO-1</text>
<text class="yl" transform="translate(570.5,401.35) rotate(-90)" x="0" y="0" dy="0.35em" font-size="6.6" font-weight="bold" font-style="normal" text-anchor="middle" textLength="74.9" lengthAdjust="spacingAndGlyphs" fill="#111">relative mRNA abundance</text>
<line x1="29" y1="467.2" x2="29" y2="548.8" stroke="#1e1e1e" stroke-width="1.45"/>
<line x1="28.5" y1="548.3" x2="219.8" y2="548.3" stroke="#1e1e1e" stroke-width="1.45"/>
<line x1="25.4" y1="548.3" x2="29" y2="548.3" stroke="#1e1e1e" stroke-width="1.45"/>
<text x="24" y="550.6" font-size="5.6" font-weight="bold" font-style="normal" text-anchor="end" fill="#111" stroke="#111" stroke-width="0.18">0.0</text>
<line x1="25.4" y1="521.43" x2="29" y2="521.43" stroke="#1e1e1e" stroke-width="1.45"/>
<text x="24" y="523.73" font-size="5.6" font-weight="bold" font-style="normal" text-anchor="end" fill="#111" stroke="#111" stroke-width="0.18">0.5</text>
<line x1="25.4" y1="494.57" x2="29" y2="494.57" stroke="#1e1e1e" stroke-width="1.45"/>
<text x="24" y="496.87" font-size="5.6" font-weight="bold" font-style="normal" text-anchor="end" fill="#111" stroke="#111" stroke-width="0.18">1.0</text>
<line x1="25.4" y1="467.7" x2="29" y2="467.7" stroke="#1e1e1e" stroke-width="1.45"/>
<text x="24" y="470" font-size="5.6" font-weight="bold" font-style="normal" text-anchor="end" fill="#111" stroke="#111" stroke-width="0.18">1.5</text>
<line x1="74.7" y1="548.3" x2="74.7" y2="551.9" stroke="#1e1e1e" stroke-width="1.45"/>
<line x1="173.8" y1="548.3" x2="173.8" y2="551.9" stroke="#1e1e1e" stroke-width="1.45"/>
<line x1="42.9" y1="488.2" x2="42.9" y2="495.5" stroke="#4a4a4a" stroke-width="0.8"/>
<line x1="39.5" y1="488.2" x2="46.3" y2="488.2" stroke="#4a4a4a" stroke-width="0.8"/>
<rect x="36.3" y="495.5" width="13.2" height="52.8" fill="#e6c1f5" stroke="#1a1a1a" stroke-width="1.25"/>
<text x="42.9" y="481.9" font-size="6.5" font-weight="normal" font-style="normal" text-anchor="middle" fill="#1a1a1a" >ab</text>
<line x1="64.1" y1="511.4" x2="64.1" y2="520.8" stroke="#4a4a4a" stroke-width="0.8"/>
<line x1="60.7" y1="511.4" x2="67.5" y2="511.4" stroke="#4a4a4a" stroke-width="0.8"/>
<rect x="57.5" y="520.8" width="13.2" height="27.5" fill="#ffbfbf" stroke="#1a1a1a" stroke-width="1.25"/>
<text x="64.1" y="505.3" font-size="6.5" font-weight="normal" font-style="normal" text-anchor="middle" fill="#1a1a1a" >b</text>
<line x1="85.3" y1="484.4" x2="85.3" y2="493.4" stroke="#4a4a4a" stroke-width="0.8"/>
<line x1="81.9" y1="484.4" x2="88.7" y2="484.4" stroke="#4a4a4a" stroke-width="0.8"/>
<rect x="78.7" y="493.4" width="13.2" height="54.9" fill="#f2b87d" stroke="#1a1a1a" stroke-width="1.25"/>
<text x="85.3" y="478.5" font-size="6.5" font-weight="normal" font-style="normal" text-anchor="middle" fill="#1a1a1a" >ab</text>
<line x1="106.5" y1="478.6" x2="106.5" y2="484.4" stroke="#4a4a4a" stroke-width="0.8"/>
<line x1="103.1" y1="478.6" x2="109.9" y2="478.6" stroke="#4a4a4a" stroke-width="0.8"/>
<rect x="99.9" y="484.4" width="13.2" height="63.9" fill="#acdeac" stroke="#1a1a1a" stroke-width="1.25"/>
<text x="106.5" y="472.7" font-size="6.5" font-weight="normal" font-style="normal" text-anchor="middle" fill="#1a1a1a" >a</text>
<line x1="142" y1="490.6" x2="142" y2="495.6" stroke="#4a4a4a" stroke-width="0.8"/>
<line x1="138.6" y1="490.6" x2="145.4" y2="490.6" stroke="#4a4a4a" stroke-width="0.8"/>
<rect x="135.4" y="495.6" width="13.2" height="52.7" fill="#e6c1f5" stroke="#1a1a1a" stroke-width="1.25"/>
<line x1="163.2" y1="500.5" x2="163.2" y2="504.8" stroke="#4a4a4a" stroke-width="0.8"/>
<line x1="159.8" y1="500.5" x2="166.6" y2="500.5" stroke="#4a4a4a" stroke-width="0.8"/>
<rect x="156.6" y="504.8" width="13.2" height="43.5" fill="#ffbfbf" stroke="#1a1a1a" stroke-width="1.25"/>
<line x1="184.4" y1="484" x2="184.4" y2="493.6" stroke="#4a4a4a" stroke-width="0.8"/>
<line x1="181" y1="484" x2="187.8" y2="484" stroke="#4a4a4a" stroke-width="0.8"/>
<rect x="177.8" y="493.6" width="13.2" height="54.7" fill="#f2b87d" stroke="#1a1a1a" stroke-width="1.25"/>
<line x1="205.6" y1="485.3" x2="205.6" y2="493.6" stroke="#4a4a4a" stroke-width="0.8"/>
<line x1="202.2" y1="485.3" x2="209" y2="485.3" stroke="#4a4a4a" stroke-width="0.8"/>
<rect x="199" y="493.6" width="13.2" height="54.7" fill="#acdeac" stroke="#1a1a1a" stroke-width="1.25"/>
<text x="74.7" y="558.1" font-size="6.0" font-weight="bold" font-style="normal" text-anchor="middle" fill="#111" stroke="#111" stroke-width="0.15">Jejunum</text>
<text x="173.8" y="558.1" font-size="6.0" font-weight="bold" font-style="normal" text-anchor="middle" fill="#111" stroke="#111" stroke-width="0.15">Ileum</text>
<text class="yl" transform="translate(4.1,509.2) rotate(-90)" x="0" y="0" dy="0.35em" font-size="6.6" font-weight="bold" font-style="italic" text-anchor="middle" fill="#111">Nrf2</text>
<text class="yl" transform="translate(10.2,509.15) rotate(-90)" x="0" y="0" dy="0.35em" font-size="6.6" font-weight="bold" font-style="normal" text-anchor="middle" textLength="76.1" lengthAdjust="spacingAndGlyphs" fill="#111">relative mRNA abundance</text>
<line x1="302.8" y1="467.2" x2="302.8" y2="548.8" stroke="#1e1e1e" stroke-width="1.45"/>
<line x1="302.3" y1="548.3" x2="494.5" y2="548.3" stroke="#1e1e1e" stroke-width="1.45"/>
<line x1="299.2" y1="548.3" x2="302.8" y2="548.3" stroke="#1e1e1e" stroke-width="1.45"/>
<text x="297.8" y="550.6" font-size="5.6" font-weight="bold" font-style="normal" text-anchor="end" fill="#111" stroke="#111" stroke-width="0.18">0.0</text>
<line x1="299.2" y1="532.18" x2="302.8" y2="532.18" stroke="#1e1e1e" stroke-width="1.45"/>
<text x="297.8" y="534.48" font-size="5.6" font-weight="bold" font-style="normal" text-anchor="end" fill="#111" stroke="#111" stroke-width="0.18">0.5</text>
<line x1="299.2" y1="516.06" x2="302.8" y2="516.06" stroke="#1e1e1e" stroke-width="1.45"/>
<text x="297.8" y="518.36" font-size="5.6" font-weight="bold" font-style="normal" text-anchor="end" fill="#111" stroke="#111" stroke-width="0.18">1.0</text>
<line x1="299.2" y1="499.94" x2="302.8" y2="499.94" stroke="#1e1e1e" stroke-width="1.45"/>
<text x="297.8" y="502.24" font-size="5.6" font-weight="bold" font-style="normal" text-anchor="end" fill="#111" stroke="#111" stroke-width="0.18">1.5</text>
<line x1="299.2" y1="483.82" x2="302.8" y2="483.82" stroke="#1e1e1e" stroke-width="1.45"/>
<text x="297.8" y="486.12" font-size="5.6" font-weight="bold" font-style="normal" text-anchor="end" fill="#111" stroke="#111" stroke-width="0.18">2.0</text>
<line x1="299.2" y1="467.7" x2="302.8" y2="467.7" stroke="#1e1e1e" stroke-width="1.45"/>
<text x="297.8" y="470" font-size="5.6" font-weight="bold" font-style="normal" text-anchor="end" fill="#111" stroke="#111" stroke-width="0.18">2.5</text>
<line x1="349" y1="548.3" x2="349" y2="551.9" stroke="#1e1e1e" stroke-width="1.45"/>
<line x1="448" y1="548.3" x2="448" y2="551.9" stroke="#1e1e1e" stroke-width="1.45"/>
<line x1="317.2" y1="509.5" x2="317.2" y2="516.5" stroke="#4a4a4a" stroke-width="0.8"/>
<line x1="313.8" y1="509.5" x2="320.6" y2="509.5" stroke="#4a4a4a" stroke-width="0.8"/>
<rect x="310.6" y="516.5" width="13.2" height="31.8" fill="#e6c1f5" stroke="#1a1a1a" stroke-width="1.25"/>
<line x1="338.4" y1="483.5" x2="338.4" y2="496.6" stroke="#4a4a4a" stroke-width="0.8"/>
<line x1="335" y1="483.5" x2="341.8" y2="483.5" stroke="#4a4a4a" stroke-width="0.8"/>
<rect x="331.8" y="496.6" width="13.2" height="51.7" fill="#ffbfbf" stroke="#1a1a1a" stroke-width="1.25"/>
<line x1="359.6" y1="527.5" x2="359.6" y2="529.8" stroke="#4a4a4a" stroke-width="0.8"/>
<line x1="356.2" y1="527.5" x2="363" y2="527.5" stroke="#4a4a4a" stroke-width="0.8"/>
<rect x="353" y="529.8" width="13.2" height="18.5" fill="#f2b87d" stroke="#1a1a1a" stroke-width="1.25"/>
<line x1="380.8" y1="512.5" x2="380.8" y2="518" stroke="#4a4a4a" stroke-width="0.8"/>
<line x1="377.4" y1="512.5" x2="384.2" y2="512.5" stroke="#4a4a4a" stroke-width="0.8"/>
<rect x="374.2" y="518" width="13.2" height="30.3" fill="#acdeac" stroke="#1a1a1a" stroke-width="1.25"/>
<line x1="416.2" y1="513.2" x2="416.2" y2="516.8" stroke="#4a4a4a" stroke-width="0.8"/>
<line x1="412.8" y1="513.2" x2="419.6" y2="513.2" stroke="#4a4a4a" stroke-width="0.8"/>
<rect x="409.6" y="516.8" width="13.2" height="31.5" fill="#e6c1f5" stroke="#1a1a1a" stroke-width="1.25"/>
<text x="416.2" y="506" font-size="6.5" font-weight="normal" font-style="normal" text-anchor="middle" fill="#1a1a1a" >ab</text>
<line x1="437.4" y1="476.1" x2="437.4" y2="490.7" stroke="#4a4a4a" stroke-width="0.8"/>
<line x1="434" y1="476.1" x2="440.8" y2="476.1" stroke="#4a4a4a" stroke-width="0.8"/>
<rect x="430.8" y="490.7" width="13.2" height="57.6" fill="#ffbfbf" stroke="#1a1a1a" stroke-width="1.25"/>
<text x="437.4" y="470.8" font-size="6.5" font-weight="normal" font-style="normal" text-anchor="middle" fill="#1a1a1a" >a</text>
<line x1="458.6" y1="508.3" x2="458.6" y2="511.9" stroke="#4a4a4a" stroke-width="0.8"/>
<line x1="455.2" y1="508.3" x2="462" y2="508.3" stroke="#4a4a4a" stroke-width="0.8"/>
<rect x="452" y="511.9" width="13.2" height="36.4" fill="#f2b87d" stroke="#1a1a1a" stroke-width="1.25"/>
<text x="458.6" y="501.6" font-size="6.5" font-weight="normal" font-style="normal" text-anchor="middle" fill="#1a1a1a" >ab</text>
<line x1="479.8" y1="528.5" x2="479.8" y2="530.5" stroke="#4a4a4a" stroke-width="0.8"/>
<line x1="476.4" y1="528.5" x2="483.2" y2="528.5" stroke="#4a4a4a" stroke-width="0.8"/>
<rect x="473.2" y="530.5" width="13.2" height="17.8" fill="#acdeac" stroke="#1a1a1a" stroke-width="1.25"/>
<text x="479.8" y="521.9" font-size="6.5" font-weight="normal" font-style="normal" text-anchor="middle" fill="#1a1a1a" >b</text>
<text x="349" y="558.1" font-size="6.0" font-weight="bold" font-style="normal" text-anchor="middle" fill="#111" stroke="#111" stroke-width="0.15">Jejunum</text>
<text x="448" y="558.1" font-size="6.0" font-weight="bold" font-style="normal" text-anchor="middle" fill="#111" stroke="#111" stroke-width="0.15">Ileum</text>
<text class="yl" transform="translate(276,509.2) rotate(-90)" x="0" y="0" dy="0.35em" font-size="6.6" font-weight="bold" font-style="italic" text-anchor="middle" fill="#111">iNOS</text>
<text class="yl" transform="translate(285.1,509.15) rotate(-90)" x="0" y="0" dy="0.35em" font-size="6.6" font-weight="bold" font-style="normal" text-anchor="middle" textLength="76.1" lengthAdjust="spacingAndGlyphs" fill="#111">relative mRNA abundance</text>
<rect x="648.6" y="484.75" width="7.3" height="3.0" fill="#e6c1f5" stroke="#1a1a1a" stroke-width="1.1"/>
<text x="660.9" y="488.15" font-size="6.7" font-weight="normal" font-style="normal" text-anchor="start" fill="#222" >Control</text>
<rect x="648.6" y="503.4" width="7.3" height="3.0" fill="#ffbfbf" stroke="#1a1a1a" stroke-width="1.1"/>
<text x="660.9" y="506.8" font-size="6.7" font-weight="normal" font-style="normal" text-anchor="start" fill="#222" >S.T.</text>
<rect x="648.6" y="521.7" width="7.3" height="3.0" fill="#f2b87d" stroke="#1a1a1a" stroke-width="1.1"/>
<text x="660.9" y="525.1" font-size="6.7" font-weight="normal" font-style="normal" text-anchor="start" fill="#222" >S.T.+HNa</text>
<rect x="648.6" y="536.8" width="7.3" height="3.0" fill="#acdeac" stroke="#1a1a1a" stroke-width="1.1"/>
<text x="660.9" y="540.2" font-size="6.7" font-weight="normal" font-style="normal" text-anchor="start" fill="#222" >S.T.+Zn/Se-HNa</text>
</svg>
</body></html>
